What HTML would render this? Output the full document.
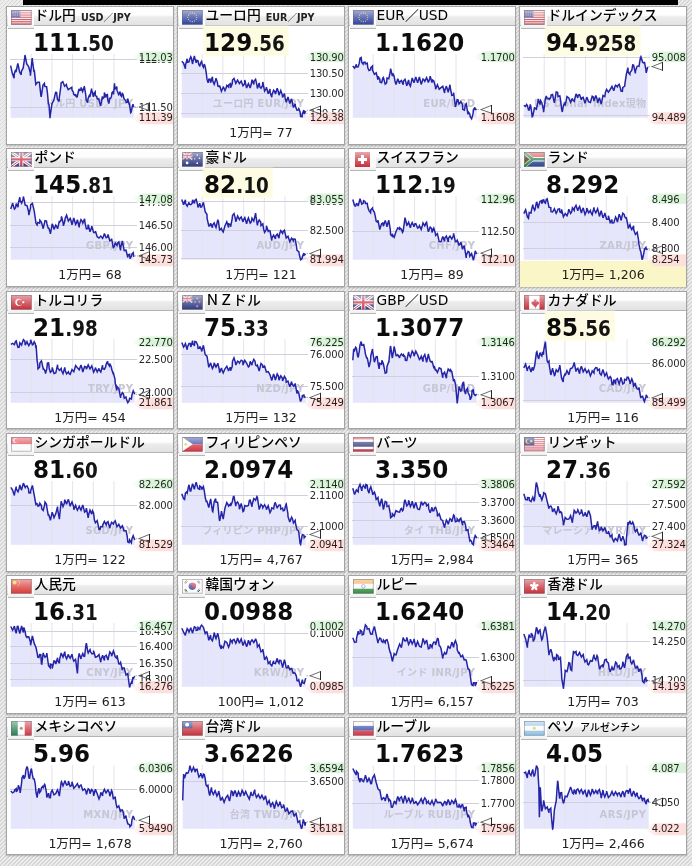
<!DOCTYPE html><html><head><meta charset="utf-8"><style>
*{box-sizing:border-box}
html,body{margin:0;padding:0}
body{width:692px;height:866px;overflow:hidden;position:relative;
 background:repeating-linear-gradient(135deg,#d6d6d6 0 1.3px,#ededed 1.3px 2.83px);
 font-family:"DejaVu Sans","Liberation Sans","Noto Sans CJK JP",sans-serif;color:#111}
.top{position:absolute;left:23px;top:0;width:655px;height:5px;background:#000}
.card{position:absolute;width:168px;border:1px solid #a4a4a4;background:#fff;box-shadow:0 1px 1.5px rgba(0,0,0,.22)}
.hdr{position:absolute;left:0;top:0;width:166px;height:19px;border-bottom:1px solid #b4b4b4;
 background:linear-gradient(#ffffff 0,#fdfdfd 45%,#ececec 55%,#e2e2e2 100%)}
.fbox{position:absolute;left:1px;top:0;width:26px;height:22px;background:linear-gradient(#ffffff 0,#fbfbfb 80%,#eeeeee 100%);
 border-bottom:1px solid #b4b8b8;z-index:2}
.flag{position:absolute;left:3px;top:3.3px;width:20.6px;height:14.6px}
.name{position:absolute;left:27.5px;top:-0.6px;height:18px;line-height:18px;white-space:nowrap;
 font-family:"DejaVu Sans","Noto Sans CJK JP",sans-serif;font-size:13.8px;font-weight:500;color:#000;z-index:3;-webkit-text-stroke:0}
.name .code{font-family:"DejaVu Sans","Noto Sans CJK JP",sans-serif;font-weight:bold;font-size:9.6px;margin-left:5px;color:#222;-webkit-text-stroke:0;position:relative;top:1px}
.name .n2{font-size:10px;margin-left:5px}
.price{position:absolute;left:26px;top:20px;height:28px;padding:0 3.5px 0 0;white-space:nowrap;z-index:3;
 font-family:"DejaVu Sans Condensed","DejaVu Sans",sans-serif;font-weight:bold;font-size:25.6px;line-height:30px;color:#0c0c0c}
.price.hl{background:#fdfbe2;box-shadow:0 0 2px 1px #fdfbe6}
.price b{font-weight:bold;letter-spacing:0.1px}
.price i{font-style:normal;font-weight:bold;font-size:20.4px;line-height:0;color:#141414}
.ch{position:absolute;left:0;top:0;z-index:1}
.wm{font-family:"DejaVu Sans","Noto Sans CJK JP",sans-serif;font-size:10px;font-weight:bold;letter-spacing:0.3px;fill:#c6c6d4}
.lb{font-family:"DejaVu Sans",sans-serif;font-size:10px;letter-spacing:-0.2px;fill:#282828}
.lb.hi{fill:#182a18}
.lb.lo{fill:#2e1818}
.bt{position:absolute;left:0;width:166px;top:119px;text-align:center;font-size:12.5px;line-height:14px;color:#202020;z-index:3;
 font-family:"DejaVu Sans","Noto Sans CJK JP",sans-serif}
.bhl{position:absolute;left:0;width:166px;background:#fbf6c8;z-index:0}
</style></head><body><svg width="0" height="0" style="position:absolute"><defs><linearGradient id="gg" x1="0" x2="1"><stop offset="0" stop-color="#daf3da" stop-opacity="0"/><stop offset="0.4" stop-color="#daf3da"/><stop offset="1" stop-color="#daf3da"/></linearGradient><linearGradient id="gp" x1="0" x2="1"><stop offset="0" stop-color="#fbe0de" stop-opacity="0"/><stop offset="0.35" stop-color="#fbe0de"/><stop offset="1" stop-color="#fbe0de"/></linearGradient><linearGradient id="gl" x1="0" y1="0" x2="0" y2="1"><stop offset="0" stop-color="#fff" stop-opacity="0.6"/><stop offset="0.5" stop-color="#fff" stop-opacity="0.3"/><stop offset="1" stop-color="#fff" stop-opacity="0.05"/></linearGradient><filter id="bl" x="-10%" y="-30%" width="120%" height="160%"><feGaussianBlur stdDeviation="0.6"/></filter></defs></svg><div class="top"></div>
<div class="card" style="left:6px;top:6px;height:139px"><div class="hdr"></div>
<div class="fbox"><svg class="flag" viewBox="0 0 21 15" preserveAspectRatio="none"><rect width="21" height="15" fill="#f4eeee"/><rect x="0" y="0.00" width="21" height="1.15" fill="#c8323c"/><rect x="0" y="2.31" width="21" height="1.15" fill="#c8323c"/><rect x="0" y="4.62" width="21" height="1.15" fill="#c8323c"/><rect x="0" y="6.92" width="21" height="1.15" fill="#c8323c"/><rect x="0" y="9.23" width="21" height="1.15" fill="#c8323c"/><rect x="0" y="11.54" width="21" height="1.15" fill="#c8323c"/><rect x="0" y="13.85" width="21" height="1.15" fill="#c8323c"/><rect width="9.5" height="8.1" fill="#3b3b8c"/><g fill="#b8b8e0"><circle cx="1.0" cy="1.0" r="0.45"/><circle cx="1.0" cy="2.6" r="0.45"/><circle cx="1.0" cy="4.2" r="0.45"/><circle cx="1.0" cy="5.8" r="0.45"/><circle cx="1.0" cy="7.4" r="0.45"/><circle cx="2.9" cy="1.0" r="0.45"/><circle cx="2.9" cy="2.6" r="0.45"/><circle cx="2.9" cy="4.2" r="0.45"/><circle cx="2.9" cy="5.8" r="0.45"/><circle cx="2.9" cy="7.4" r="0.45"/><circle cx="4.8" cy="1.0" r="0.45"/><circle cx="4.8" cy="2.6" r="0.45"/><circle cx="4.8" cy="4.2" r="0.45"/><circle cx="4.8" cy="5.8" r="0.45"/><circle cx="4.8" cy="7.4" r="0.45"/><circle cx="6.7" cy="1.0" r="0.45"/><circle cx="6.7" cy="2.6" r="0.45"/><circle cx="6.7" cy="4.2" r="0.45"/><circle cx="6.7" cy="5.8" r="0.45"/><circle cx="6.7" cy="7.4" r="0.45"/><circle cx="8.6" cy="1.0" r="0.45"/><circle cx="8.6" cy="2.6" r="0.45"/><circle cx="8.6" cy="4.2" r="0.45"/><circle cx="8.6" cy="5.8" r="0.45"/><circle cx="8.6" cy="7.4" r="0.45"/></g><rect width="21" height="15" fill="url(#gl)"/><rect x="0.4" y="0.4" width="20.2" height="14.2" fill="none" stroke="#6a6070" stroke-opacity="0.55" stroke-width="0.8"/></svg></div>
<div class="name">ドル円<span class="code">USD／JPY</span></div>
<div class="price"><b>111</b><i>.50</i></div>
<svg class="ch" width="166" height="137" viewBox="1 1 166 137"><polygon points="4.6,111.8 4.6,59.7 6.4,67.6 8.1,72.3 8.2,68.2 9.6,63.7 10.0,66.2 11.8,57.4 12.1,58.6 13.6,66.0 15.2,68.8 15.4,65.5 17.2,61.9 18.7,51.6 19.0,49.0 20.8,58.1 21.7,59.1 22.6,60.6 24.3,66.7 24.4,69.6 26.2,52.0 26.3,53.6 28.0,65.9 28.3,64.2 29.8,78.4 31.6,76.3 33.4,76.3 34.9,89.5 35.2,90.8 37.0,79.1 38.4,77.4 38.8,80.4 40.6,80.7 41.5,87.5 42.4,97.9 43.0,98.6 44.0,112.3 44.2,109.7 46.0,97.6 47.8,94.3 49.6,86.3 50.6,86.5 51.4,93.2 53.1,95.6 53.2,92.5 55.0,79.5 55.1,76.9 56.8,75.7 58.6,80.2 60.4,78.5 60.7,80.4 62.2,83.6 64.0,82.4 65.8,81.3 66.0,83.9 67.5,86.5 67.6,88.4 69.1,89.5 69.4,88.1 70.6,91.0 71.2,90.9 72.1,86.5 73.0,82.9 73.6,84.4 74.8,83.9 75.1,81.4 76.6,85.5 78.2,80.9 78.4,80.8 79.7,88.5 80.2,94.0 81.7,96.6 82.0,92.7 83.7,88.5 83.8,91.2 85.6,82.6 85.7,83.9 87.4,90.8 87.8,87.5 89.2,85.8 89.3,89.5 90.8,90.5 91.0,92.3 92.3,93.5 92.8,92.9 93.8,97.6 94.6,99.8 95.4,95.6 96.4,90.4 96.9,92.5 98.2,91.1 98.4,86.5 99.9,91.5 100.0,89.0 101.4,88.5 101.8,94.4 102.9,97.6 103.6,92.4 104.5,92.5 105.4,90.8 106.0,86.5 107.2,85.3 107.5,88.5 108.5,77.4 109.0,83.5 109.5,82.4 110.8,80.6 111.0,84.4 112.6,88.5 114.1,85.5 114.4,89.0 115.6,90.5 116.2,86.9 117.1,88.5 118.0,92.6 118.6,93.5 119.8,94.3 120.1,96.6 121.6,96.1 121.7,92.5 123.2,98.6 123.4,97.4 124.7,106.7 125.2,106.2 126.2,100.6 127.0,98.2 127.7,101.1 127.7,111.8" fill="#e5e5fb"/>
<line x1="25.2" y1="48" x2="25.2" y2="111.8" stroke="#e4e4ea" stroke-width="1"/>
<line x1="45.9" y1="48" x2="45.9" y2="111.8" stroke="#e4e4ea" stroke-width="1"/>
<line x1="66.6" y1="48" x2="66.6" y2="111.8" stroke="#e4e4ea" stroke-width="1"/>
<line x1="87.3" y1="48" x2="87.3" y2="111.8" stroke="#e4e4ea" stroke-width="1"/>
<line x1="108.0" y1="48" x2="108.0" y2="111.8" stroke="#e4e4ea" stroke-width="1"/>
<line x1="4" y1="53.5" x2="131" y2="53.5" stroke="#d0d0dc" stroke-width="1"/>
<line x1="4" y1="101.5" x2="131" y2="101.5" stroke="#d0d0dc" stroke-width="1"/>
<text x="127.3" y="100.8" text-anchor="end" class="wm">ドル円 USD／JPY</text>
<polyline points="4.6,59.7 6.4,67.6 8.1,72.3 8.2,68.2 9.6,63.7 10.0,66.2 11.8,57.4 12.1,58.6 13.6,66.0 15.2,68.8 15.4,65.5 17.2,61.9 18.7,51.6 19.0,49.0 20.8,58.1 21.7,59.1 22.6,60.6 24.3,66.7 24.4,69.6 26.2,52.0 26.3,53.6 28.0,65.9 28.3,64.2 29.8,78.4 31.6,76.3 33.4,76.3 34.9,89.5 35.2,90.8 37.0,79.1 38.4,77.4 38.8,80.4 40.6,80.7 41.5,87.5 42.4,97.9 43.0,98.6 44.0,112.3 44.2,109.7 46.0,97.6 47.8,94.3 49.6,86.3 50.6,86.5 51.4,93.2 53.1,95.6 53.2,92.5 55.0,79.5 55.1,76.9 56.8,75.7 58.6,80.2 60.4,78.5 60.7,80.4 62.2,83.6 64.0,82.4 65.8,81.3 66.0,83.9 67.5,86.5 67.6,88.4 69.1,89.5 69.4,88.1 70.6,91.0 71.2,90.9 72.1,86.5 73.0,82.9 73.6,84.4 74.8,83.9 75.1,81.4 76.6,85.5 78.2,80.9 78.4,80.8 79.7,88.5 80.2,94.0 81.7,96.6 82.0,92.7 83.7,88.5 83.8,91.2 85.6,82.6 85.7,83.9 87.4,90.8 87.8,87.5 89.2,85.8 89.3,89.5 90.8,90.5 91.0,92.3 92.3,93.5 92.8,92.9 93.8,97.6 94.6,99.8 95.4,95.6 96.4,90.4 96.9,92.5 98.2,91.1 98.4,86.5 99.9,91.5 100.0,89.0 101.4,88.5 101.8,94.4 102.9,97.6 103.6,92.4 104.5,92.5 105.4,90.8 106.0,86.5 107.2,85.3 107.5,88.5 108.5,77.4 109.0,83.5 109.5,82.4 110.8,80.6 111.0,84.4 112.6,88.5 114.1,85.5 114.4,89.0 115.6,90.5 116.2,86.9 117.1,88.5 118.0,92.6 118.6,93.5 119.8,94.3 120.1,96.6 121.6,96.1 121.7,92.5 123.2,98.6 123.4,97.4 124.7,106.7 125.2,106.2 126.2,100.6 127.0,98.2 127.7,101.1" fill="none" stroke="#2424a8" stroke-width="1.5" stroke-linejoin="miter" stroke-miterlimit="3"/>
<text x="132.8" y="57.1" class="lb">112.00</text>
<text x="132.8" y="105.1" class="lb">111.50</text>
<path d="M125,51.0L135,45.4H167V55.9H135Z" fill="url(#gg)" filter="url(#bl)"/>
<path d="M125,112.2L135,106.2H167V118.2H135Z" fill="url(#gp)" filter="url(#bl)"/>
<text x="132.8" y="54.6" class="lb hi">112.03</text>
<text x="132.8" y="115.4" class="lb lo">111.39</text>
<line x1="128.7" y1="101.1" x2="133" y2="101.1" stroke="#888" stroke-width="1" stroke-dasharray="1 1.5"/>
<path d="M143.5,96.9L133,101.1L143.5,104.7" fill="none" stroke="#5a5a5a" stroke-width="0.9"/>
<line x1="143.5" y1="96.5" x2="143.5" y2="105.3" stroke="#111" stroke-width="0.9"/></svg></div>
<div class="card" style="left:177px;top:6px;height:139px"><div class="hdr"></div>
<div class="fbox"><svg class="flag" viewBox="0 0 21 15" preserveAspectRatio="none"><rect width="21" height="15" fill="#24399a"/><g fill="#e8d84a"><circle cx="15.00" cy="7.50" r="0.6"/><circle cx="14.40" cy="9.75" r="0.6"/><circle cx="12.75" cy="11.40" r="0.6"/><circle cx="10.50" cy="12.00" r="0.6"/><circle cx="8.25" cy="11.40" r="0.6"/><circle cx="6.60" cy="9.75" r="0.6"/><circle cx="6.00" cy="7.50" r="0.6"/><circle cx="6.60" cy="5.25" r="0.6"/><circle cx="8.25" cy="3.60" r="0.6"/><circle cx="10.50" cy="3.00" r="0.6"/><circle cx="12.75" cy="3.60" r="0.6"/><circle cx="14.40" cy="5.25" r="0.6"/></g><rect width="21" height="15" fill="url(#gl)"/><rect x="0.4" y="0.4" width="20.2" height="14.2" fill="none" stroke="#6a6070" stroke-opacity="0.55" stroke-width="0.8"/></svg></div>
<div class="name">ユーロ円<span class="code">EUR／JPY</span></div>
<div class="price hl"><b>129</b><i>.56</i></div>
<svg class="ch" width="166" height="137" viewBox="1 1 166 137"><polygon points="4.8,111.8 4.8,55.3 6.6,57.2 8.4,62.8 8.5,59.0 10.2,52.7 10.4,56.2 12.0,55.8 12.3,54.3 13.8,50.8 14.2,51.5 15.6,58.0 16.0,55.3 17.4,50.0 17.9,52.5 19.2,56.7 19.8,54.3 21.0,54.8 21.7,58.1 22.8,60.4 23.5,57.2 24.6,55.4 25.4,59.0 26.4,61.3 27.3,58.1 28.2,60.6 29.2,66.5 30.0,73.2 31.1,76.9 31.8,73.2 32.9,73.1 33.6,76.7 35.4,70.8 35.8,75.0 37.2,78.4 38.6,74.1 39.0,72.1 40.5,76.9 40.8,79.9 42.3,80.6 42.6,79.4 44.2,84.4 44.4,85.2 46.1,81.6 46.2,80.5 48.0,84.6 48.9,82.5 49.8,79.4 51.6,81.1 51.7,78.8 53.4,77.6 53.6,81.6 55.2,77.9 55.5,74.1 57.0,72.4 58.3,75.9 58.8,77.4 60.6,74.1 61.1,75.0 62.4,77.6 64.2,75.1 64.9,76.9 66.0,79.8 67.7,77.8 67.8,73.9 69.6,82.1 70.5,79.7 71.4,77.7 73.2,82.0 74.3,77.8 75.0,73.7 76.8,78.5 77.1,75.0 78.6,73.3 79.9,78.8 80.4,82.4 82.2,76.9 82.7,80.6 84.0,82.2 85.5,79.7 85.8,76.0 87.6,85.1 89.3,82.5 89.4,81.1 91.2,87.7 93.0,83.1 93.1,86.3 94.8,91.3 94.9,89.1 96.6,84.2 97.7,85.3 98.4,88.0 100.2,82.2 101.5,86.3 102.0,89.2 103.8,84.5 105.3,89.1 105.6,91.5 107.4,87.6 108.1,91.9 109.2,96.2 111.0,91.0 111.8,93.8 112.8,97.5 114.6,92.8 115.6,97.5 116.4,101.5 118.2,97.7 118.4,100.4 120.0,104.2 121.2,104.1 121.8,102.7 123.1,106.0 123.6,110.3 125.0,110.7 125.4,107.8 126.9,104.1 127.2,108.0 128.7,105.1 128.7,111.8" fill="#e5e5fb"/>
<line x1="25.2" y1="48" x2="25.2" y2="111.8" stroke="#e4e4ea" stroke-width="1"/>
<line x1="45.9" y1="48" x2="45.9" y2="111.8" stroke="#e4e4ea" stroke-width="1"/>
<line x1="66.6" y1="48" x2="66.6" y2="111.8" stroke="#e4e4ea" stroke-width="1"/>
<line x1="87.3" y1="48" x2="87.3" y2="111.8" stroke="#e4e4ea" stroke-width="1"/>
<line x1="108.0" y1="48" x2="108.0" y2="111.8" stroke="#e4e4ea" stroke-width="1"/>
<line x1="4" y1="67.5" x2="131" y2="67.5" stroke="#d0d0dc" stroke-width="1"/>
<line x1="4" y1="87.5" x2="131" y2="87.5" stroke="#d0d0dc" stroke-width="1"/>
<line x1="4" y1="107.5" x2="131" y2="107.5" stroke="#d0d0dc" stroke-width="1"/>
<text x="127.3" y="100.8" text-anchor="end" class="wm">ユーロ円 EUR/JPY</text>
<polyline points="4.8,55.3 6.6,57.2 8.4,62.8 8.5,59.0 10.2,52.7 10.4,56.2 12.0,55.8 12.3,54.3 13.8,50.8 14.2,51.5 15.6,58.0 16.0,55.3 17.4,50.0 17.9,52.5 19.2,56.7 19.8,54.3 21.0,54.8 21.7,58.1 22.8,60.4 23.5,57.2 24.6,55.4 25.4,59.0 26.4,61.3 27.3,58.1 28.2,60.6 29.2,66.5 30.0,73.2 31.1,76.9 31.8,73.2 32.9,73.1 33.6,76.7 35.4,70.8 35.8,75.0 37.2,78.4 38.6,74.1 39.0,72.1 40.5,76.9 40.8,79.9 42.3,80.6 42.6,79.4 44.2,84.4 44.4,85.2 46.1,81.6 46.2,80.5 48.0,84.6 48.9,82.5 49.8,79.4 51.6,81.1 51.7,78.8 53.4,77.6 53.6,81.6 55.2,77.9 55.5,74.1 57.0,72.4 58.3,75.9 58.8,77.4 60.6,74.1 61.1,75.0 62.4,77.6 64.2,75.1 64.9,76.9 66.0,79.8 67.7,77.8 67.8,73.9 69.6,82.1 70.5,79.7 71.4,77.7 73.2,82.0 74.3,77.8 75.0,73.7 76.8,78.5 77.1,75.0 78.6,73.3 79.9,78.8 80.4,82.4 82.2,76.9 82.7,80.6 84.0,82.2 85.5,79.7 85.8,76.0 87.6,85.1 89.3,82.5 89.4,81.1 91.2,87.7 93.0,83.1 93.1,86.3 94.8,91.3 94.9,89.1 96.6,84.2 97.7,85.3 98.4,88.0 100.2,82.2 101.5,86.3 102.0,89.2 103.8,84.5 105.3,89.1 105.6,91.5 107.4,87.6 108.1,91.9 109.2,96.2 111.0,91.0 111.8,93.8 112.8,97.5 114.6,92.8 115.6,97.5 116.4,101.5 118.2,97.7 118.4,100.4 120.0,104.2 121.2,104.1 121.8,102.7 123.1,106.0 123.6,110.3 125.0,110.7 125.4,107.8 126.9,104.1 127.2,108.0 128.7,105.1" fill="none" stroke="#2424a8" stroke-width="1.5" stroke-linejoin="miter" stroke-miterlimit="3"/>
<text x="132.8" y="71.1" class="lb">130.50</text>
<text x="132.8" y="91.1" class="lb">130.00</text>
<text x="132.8" y="111.1" class="lb">129.50</text>
<path d="M125,51.0L135,45.4H167V55.9H135Z" fill="url(#gg)" filter="url(#bl)"/>
<path d="M125,112.2L135,106.2H167V118.2H135Z" fill="url(#gp)" filter="url(#bl)"/>
<text x="132.8" y="54.6" class="lb hi">130.90</text>
<text x="132.8" y="115.4" class="lb lo">129.38</text>
<line x1="129.7" y1="104.3" x2="133" y2="104.3" stroke="#888" stroke-width="1" stroke-dasharray="1 1.5"/>
<path d="M143.5,100.1L133,104.3L143.5,107.9" fill="none" stroke="#5a5a5a" stroke-width="0.9"/>
<line x1="143.5" y1="99.7" x2="143.5" y2="108.5" stroke="#111" stroke-width="0.9"/></svg>
<div class="bt">1万円= 77</div></div>
<div class="card" style="left:348px;top:6px;height:139px"><div class="hdr"></div>
<div class="fbox"><svg class="flag" viewBox="0 0 21 15" preserveAspectRatio="none"><rect width="21" height="15" fill="#24399a"/><g fill="#e8d84a"><circle cx="15.00" cy="7.50" r="0.6"/><circle cx="14.40" cy="9.75" r="0.6"/><circle cx="12.75" cy="11.40" r="0.6"/><circle cx="10.50" cy="12.00" r="0.6"/><circle cx="8.25" cy="11.40" r="0.6"/><circle cx="6.60" cy="9.75" r="0.6"/><circle cx="6.00" cy="7.50" r="0.6"/><circle cx="6.60" cy="5.25" r="0.6"/><circle cx="8.25" cy="3.60" r="0.6"/><circle cx="10.50" cy="3.00" r="0.6"/><circle cx="12.75" cy="3.60" r="0.6"/><circle cx="14.40" cy="5.25" r="0.6"/></g><rect width="21" height="15" fill="url(#gl)"/><rect x="0.4" y="0.4" width="20.2" height="14.2" fill="none" stroke="#6a6070" stroke-opacity="0.55" stroke-width="0.8"/></svg></div>
<div class="name">EUR／USD</div>
<div class="price"><b>1.1620</b></div>
<svg class="ch" width="166" height="137" viewBox="1 1 166 137"><polygon points="4.8,111.8 4.8,60.0 6.6,62.2 8.4,58.2 8.5,60.9 10.2,60.8 11.3,57.2 12.0,52.3 13.2,51.5 13.8,56.5 15.1,58.1 15.6,56.4 17.0,56.2 17.4,58.0 19.2,57.1 19.8,61.8 21.0,64.4 22.6,63.7 22.8,61.6 24.5,60.0 24.6,64.4 26.4,68.4 28.2,66.9 30.0,73.8 30.1,70.3 31.8,72.9 32.0,75.9 33.6,76.7 34.8,72.2 35.4,71.5 37.2,78.1 38.6,76.9 39.0,72.1 40.8,72.8 42.3,65.6 42.6,62.6 44.4,70.0 45.1,67.5 46.2,70.7 47.0,75.0 48.0,78.5 49.8,72.8 51.6,77.8 51.7,75.9 53.4,74.4 55.2,78.7 55.5,75.0 57.0,73.3 58.8,79.8 60.6,73.9 61.1,77.8 62.4,80.1 64.2,72.0 66.0,76.8 66.8,74.1 67.8,70.9 69.6,76.9 71.4,71.0 72.4,75.0 73.2,78.4 75.0,73.1 76.1,74.1 76.8,75.3 78.6,71.6 80.4,76.6 81.8,72.2 82.2,70.2 84.0,76.6 84.6,74.1 85.8,75.0 87.4,80.6 87.6,83.2 89.4,78.8 91.2,83.3 93.0,81.6 94.8,80.2 96.6,87.0 96.8,84.4 98.4,80.1 100.2,86.3 102.0,78.8 102.4,82.5 103.8,89.3 105.3,89.1 105.6,86.7 107.1,98.5 107.4,101.0 109.2,93.6 110.0,93.8 111.0,98.1 112.8,95.7 114.6,98.9 114.7,103.2 116.4,104.1 117.5,98.5 118.2,97.7 120.0,108.3 120.3,106.0 121.8,108.1 122.2,110.7 123.6,112.8 125.0,107.9 125.4,103.8 126.9,101.3 127.2,103.5 128.7,103.2 128.7,111.8" fill="#e5e5fb"/>
<line x1="25.2" y1="48" x2="25.2" y2="111.8" stroke="#e4e4ea" stroke-width="1"/>
<line x1="45.9" y1="48" x2="45.9" y2="111.8" stroke="#e4e4ea" stroke-width="1"/>
<line x1="66.6" y1="48" x2="66.6" y2="111.8" stroke="#e4e4ea" stroke-width="1"/>
<line x1="87.3" y1="48" x2="87.3" y2="111.8" stroke="#e4e4ea" stroke-width="1"/>
<line x1="108.0" y1="48" x2="108.0" y2="111.8" stroke="#e4e4ea" stroke-width="1"/>
<text x="127.3" y="100.8" text-anchor="end" class="wm">EUR/USD</text>
<polyline points="4.8,60.0 6.6,62.2 8.4,58.2 8.5,60.9 10.2,60.8 11.3,57.2 12.0,52.3 13.2,51.5 13.8,56.5 15.1,58.1 15.6,56.4 17.0,56.2 17.4,58.0 19.2,57.1 19.8,61.8 21.0,64.4 22.6,63.7 22.8,61.6 24.5,60.0 24.6,64.4 26.4,68.4 28.2,66.9 30.0,73.8 30.1,70.3 31.8,72.9 32.0,75.9 33.6,76.7 34.8,72.2 35.4,71.5 37.2,78.1 38.6,76.9 39.0,72.1 40.8,72.8 42.3,65.6 42.6,62.6 44.4,70.0 45.1,67.5 46.2,70.7 47.0,75.0 48.0,78.5 49.8,72.8 51.6,77.8 51.7,75.9 53.4,74.4 55.2,78.7 55.5,75.0 57.0,73.3 58.8,79.8 60.6,73.9 61.1,77.8 62.4,80.1 64.2,72.0 66.0,76.8 66.8,74.1 67.8,70.9 69.6,76.9 71.4,71.0 72.4,75.0 73.2,78.4 75.0,73.1 76.1,74.1 76.8,75.3 78.6,71.6 80.4,76.6 81.8,72.2 82.2,70.2 84.0,76.6 84.6,74.1 85.8,75.0 87.4,80.6 87.6,83.2 89.4,78.8 91.2,83.3 93.0,81.6 94.8,80.2 96.6,87.0 96.8,84.4 98.4,80.1 100.2,86.3 102.0,78.8 102.4,82.5 103.8,89.3 105.3,89.1 105.6,86.7 107.1,98.5 107.4,101.0 109.2,93.6 110.0,93.8 111.0,98.1 112.8,95.7 114.6,98.9 114.7,103.2 116.4,104.1 117.5,98.5 118.2,97.7 120.0,108.3 120.3,106.0 121.8,108.1 122.2,110.7 123.6,112.8 125.0,107.9 125.4,103.8 126.9,101.3 127.2,103.5 128.7,103.2" fill="none" stroke="#2424a8" stroke-width="1.5" stroke-linejoin="miter" stroke-miterlimit="3"/>
<path d="M125,51.0L135,45.4H167V55.9H135Z" fill="url(#gg)" filter="url(#bl)"/>
<path d="M125,112.2L135,106.2H167V118.2H135Z" fill="url(#gp)" filter="url(#bl)"/>
<text x="132.8" y="54.6" class="lb hi">1.1700</text>
<text x="132.8" y="115.4" class="lb lo">1.1608</text>
<line x1="129.7" y1="103.6" x2="133" y2="103.6" stroke="#888" stroke-width="1" stroke-dasharray="1 1.5"/>
<path d="M143.5,99.4L133,103.6L143.5,107.2" fill="none" stroke="#5a5a5a" stroke-width="0.9"/>
<line x1="143.5" y1="99.0" x2="143.5" y2="107.8" stroke="#111" stroke-width="0.9"/></svg></div>
<div class="card" style="left:519px;top:6px;height:139px"><div class="hdr"></div>
<div class="fbox"><svg class="flag" viewBox="0 0 21 15" preserveAspectRatio="none"><rect width="21" height="15" fill="#f4eeee"/><rect x="0" y="0.00" width="21" height="1.15" fill="#c8323c"/><rect x="0" y="2.31" width="21" height="1.15" fill="#c8323c"/><rect x="0" y="4.62" width="21" height="1.15" fill="#c8323c"/><rect x="0" y="6.92" width="21" height="1.15" fill="#c8323c"/><rect x="0" y="9.23" width="21" height="1.15" fill="#c8323c"/><rect x="0" y="11.54" width="21" height="1.15" fill="#c8323c"/><rect x="0" y="13.85" width="21" height="1.15" fill="#c8323c"/><rect width="9.5" height="8.1" fill="#3b3b8c"/><g fill="#b8b8e0"><circle cx="1.0" cy="1.0" r="0.45"/><circle cx="1.0" cy="2.6" r="0.45"/><circle cx="1.0" cy="4.2" r="0.45"/><circle cx="1.0" cy="5.8" r="0.45"/><circle cx="1.0" cy="7.4" r="0.45"/><circle cx="2.9" cy="1.0" r="0.45"/><circle cx="2.9" cy="2.6" r="0.45"/><circle cx="2.9" cy="4.2" r="0.45"/><circle cx="2.9" cy="5.8" r="0.45"/><circle cx="2.9" cy="7.4" r="0.45"/><circle cx="4.8" cy="1.0" r="0.45"/><circle cx="4.8" cy="2.6" r="0.45"/><circle cx="4.8" cy="4.2" r="0.45"/><circle cx="4.8" cy="5.8" r="0.45"/><circle cx="4.8" cy="7.4" r="0.45"/><circle cx="6.7" cy="1.0" r="0.45"/><circle cx="6.7" cy="2.6" r="0.45"/><circle cx="6.7" cy="4.2" r="0.45"/><circle cx="6.7" cy="5.8" r="0.45"/><circle cx="6.7" cy="7.4" r="0.45"/><circle cx="8.6" cy="1.0" r="0.45"/><circle cx="8.6" cy="2.6" r="0.45"/><circle cx="8.6" cy="4.2" r="0.45"/><circle cx="8.6" cy="5.8" r="0.45"/><circle cx="8.6" cy="7.4" r="0.45"/></g><rect width="21" height="15" fill="url(#gl)"/><rect x="0.4" y="0.4" width="20.2" height="14.2" fill="none" stroke="#6a6070" stroke-opacity="0.55" stroke-width="0.8"/></svg></div>
<div class="name">ドルインデックス</div>
<div class="price hl"><b>94</b><i>.9258</i></div>
<svg class="ch" width="166" height="137" viewBox="1 1 166 137"><polygon points="4.8,111.8 4.8,99.4 6.6,100.5 7.6,98.5 8.4,99.5 9.5,104.1 10.2,104.1 11.3,98.5 12.0,101.5 13.2,110.7 13.8,110.1 15.6,101.2 16.0,102.2 17.4,103.2 18.8,96.6 19.2,92.9 21.0,98.5 21.7,94.7 22.8,96.7 24.5,104.1 24.6,106.2 26.4,92.7 27.3,90.0 28.2,92.7 30.0,92.3 30.1,93.8 31.8,91.2 32.0,89.1 33.6,88.5 34.8,94.7 35.4,96.9 37.2,86.0 38.6,86.3 39.0,90.6 40.8,89.8 41.4,92.8 42.6,103.1 43.3,106.0 44.4,99.4 46.1,96.6 46.2,99.7 48.0,90.6 49.8,91.9 51.6,96.4 53.4,92.4 53.6,93.8 55.2,95.3 57.0,87.9 58.8,92.0 59.2,89.1 60.6,88.6 62.4,93.9 63.0,91.9 64.2,91.3 66.0,97.4 67.8,91.1 69.6,95.7 71.4,96.5 73.2,90.2 74.3,91.0 75.0,95.1 76.8,89.5 78.0,92.8 78.6,97.0 80.4,91.7 81.8,96.6 82.2,98.2 84.0,89.5 85.8,90.6 86.5,86.3 87.6,83.4 89.4,86.1 91.2,83.5 93.0,80.5 94.8,84.7 95.9,80.6 96.6,79.2 98.4,80.9 98.7,79.7 100.2,78.3 101.5,82.5 102.0,85.1 103.4,85.3 103.8,81.4 105.6,80.3 106.2,75.9 107.4,67.8 109.0,61.8 109.2,66.5 110.9,68.4 111.0,66.5 112.8,64.3 113.7,59.0 114.6,59.2 116.4,67.4 116.5,64.7 118.2,60.1 119.4,60.0 120.0,60.2 121.8,49.5 122.2,51.5 123.6,56.3 125.0,57.2 125.4,55.9 126.9,63.7 127.2,66.9 128.7,60.9 128.7,111.8" fill="#e5e5fb"/>
<line x1="25.2" y1="48" x2="25.2" y2="111.8" stroke="#e4e4ea" stroke-width="1"/>
<line x1="45.9" y1="48" x2="45.9" y2="111.8" stroke="#e4e4ea" stroke-width="1"/>
<line x1="66.6" y1="48" x2="66.6" y2="111.8" stroke="#e4e4ea" stroke-width="1"/>
<line x1="87.3" y1="48" x2="87.3" y2="111.8" stroke="#e4e4ea" stroke-width="1"/>
<line x1="108.0" y1="48" x2="108.0" y2="111.8" stroke="#e4e4ea" stroke-width="1"/>
<line x1="4" y1="51.5" x2="131" y2="51.5" stroke="#d0d0dc" stroke-width="1"/>
<line x1="4" y1="109.5" x2="131" y2="109.5" stroke="#d0d0dc" stroke-width="1"/>
<text x="127.3" y="100.8" text-anchor="end" class="wm">US Dollar Index現物</text>
<polyline points="4.8,99.4 6.6,100.5 7.6,98.5 8.4,99.5 9.5,104.1 10.2,104.1 11.3,98.5 12.0,101.5 13.2,110.7 13.8,110.1 15.6,101.2 16.0,102.2 17.4,103.2 18.8,96.6 19.2,92.9 21.0,98.5 21.7,94.7 22.8,96.7 24.5,104.1 24.6,106.2 26.4,92.7 27.3,90.0 28.2,92.7 30.0,92.3 30.1,93.8 31.8,91.2 32.0,89.1 33.6,88.5 34.8,94.7 35.4,96.9 37.2,86.0 38.6,86.3 39.0,90.6 40.8,89.8 41.4,92.8 42.6,103.1 43.3,106.0 44.4,99.4 46.1,96.6 46.2,99.7 48.0,90.6 49.8,91.9 51.6,96.4 53.4,92.4 53.6,93.8 55.2,95.3 57.0,87.9 58.8,92.0 59.2,89.1 60.6,88.6 62.4,93.9 63.0,91.9 64.2,91.3 66.0,97.4 67.8,91.1 69.6,95.7 71.4,96.5 73.2,90.2 74.3,91.0 75.0,95.1 76.8,89.5 78.0,92.8 78.6,97.0 80.4,91.7 81.8,96.6 82.2,98.2 84.0,89.5 85.8,90.6 86.5,86.3 87.6,83.4 89.4,86.1 91.2,83.5 93.0,80.5 94.8,84.7 95.9,80.6 96.6,79.2 98.4,80.9 98.7,79.7 100.2,78.3 101.5,82.5 102.0,85.1 103.4,85.3 103.8,81.4 105.6,80.3 106.2,75.9 107.4,67.8 109.0,61.8 109.2,66.5 110.9,68.4 111.0,66.5 112.8,64.3 113.7,59.0 114.6,59.2 116.4,67.4 116.5,64.7 118.2,60.1 119.4,60.0 120.0,60.2 121.8,49.5 122.2,51.5 123.6,56.3 125.0,57.2 125.4,55.9 126.9,63.7 127.2,66.9 128.7,60.9" fill="none" stroke="#2424a8" stroke-width="1.5" stroke-linejoin="miter" stroke-miterlimit="3"/>
<path d="M125,51.0L135,45.4H167V55.9H135Z" fill="url(#gg)" filter="url(#bl)"/>
<path d="M125,112.2L135,106.2H167V118.2H135Z" fill="url(#gp)" filter="url(#bl)"/>
<text x="132.8" y="54.6" class="lb hi">95.008</text>
<text x="132.8" y="115.4" class="lb lo">94.489</text>
<line x1="129.7" y1="60.6" x2="133" y2="60.6" stroke="#888" stroke-width="1" stroke-dasharray="1 1.5"/>
<path d="M143.5,56.4L133,60.6L143.5,64.2" fill="none" stroke="#5a5a5a" stroke-width="0.9"/>
<line x1="143.5" y1="56.0" x2="143.5" y2="64.8" stroke="#111" stroke-width="0.9"/></svg></div>
<div class="card" style="left:6px;top:148px;height:139px"><div class="hdr"></div>
<div class="fbox"><svg class="flag" viewBox="0 0 21 15" preserveAspectRatio="none"><rect width="21" height="15" fill="#2a3580"/><path d="M0,0L21,15M21,0L0,15" stroke="#fff" stroke-width="3"/><path d="M0,0L21,15M21,0L0,15" stroke="#c8283c" stroke-width="1"/><path d="M10.5,0V15M0,7.5H21" stroke="#fff" stroke-width="4.2"/><path d="M10.5,0V15M0,7.5H21" stroke="#c8283c" stroke-width="2.4"/><rect width="21" height="15" fill="url(#gl)"/><rect x="0.4" y="0.4" width="20.2" height="14.2" fill="none" stroke="#6a6070" stroke-opacity="0.55" stroke-width="0.8"/></svg></div>
<div class="name">ポンド</div>
<div class="price"><b>145</b><i>.81</i></div>
<svg class="ch" width="166" height="137" viewBox="1 1 166 137"><polygon points="4.8,111.8 4.8,60.9 6.6,55.3 8.4,61.1 9.5,60.0 10.2,55.6 12.0,59.2 12.3,55.3 13.8,49.3 14.2,52.5 15.6,55.2 17.0,51.5 17.4,48.5 19.2,57.1 19.8,57.2 21.0,57.6 22.6,63.7 22.8,67.1 24.5,60.0 24.6,56.8 26.4,55.3 28.2,62.8 30.0,75.3 31.1,76.9 31.8,74.4 33.6,75.1 33.9,72.2 35.4,74.0 36.7,78.8 37.2,80.7 39.0,72.6 40.5,73.1 40.8,75.4 42.3,80.6 42.6,79.5 44.2,84.4 44.4,85.8 46.2,75.9 47.0,77.8 48.0,81.4 49.8,77.1 50.8,78.8 51.6,80.8 53.4,72.9 53.6,74.0 55.2,72.1 55.5,68.4 57.0,74.4 57.4,77.8 58.8,73.0 59.2,70.3 60.6,67.2 62.4,73.0 64.2,70.3 64.9,72.2 66.0,76.7 67.8,70.0 69.6,76.4 70.5,75.0 71.4,71.7 73.2,79.4 73.3,76.9 75.0,71.6 76.1,73.1 76.8,75.2 78.6,70.9 79.0,75.0 80.4,80.9 81.8,80.6 82.2,76.6 84.0,83.7 85.5,79.7 85.8,78.2 87.6,84.4 89.3,84.4 89.4,83.1 91.2,88.7 93.0,90.0 94.8,88.1 96.6,90.4 97.7,88.1 98.4,85.5 100.2,89.8 101.5,89.1 102.0,86.4 103.8,92.8 105.3,91.9 105.6,90.7 107.4,100.3 108.1,98.5 109.2,94.9 111.0,97.5 111.8,94.7 112.8,93.9 114.6,102.4 114.7,99.4 116.4,92.9 116.5,93.8 118.2,102.6 119.4,102.2 120.0,102.1 121.8,109.5 122.2,106.9 123.6,106.3 124.0,110.7 125.4,108.3 125.9,106.0 127.2,104.6 127.8,108.8 127.8,111.8" fill="#e5e5fb"/>
<line x1="25.2" y1="48" x2="25.2" y2="111.8" stroke="#e4e4ea" stroke-width="1"/>
<line x1="45.9" y1="48" x2="45.9" y2="111.8" stroke="#e4e4ea" stroke-width="1"/>
<line x1="66.6" y1="48" x2="66.6" y2="111.8" stroke="#e4e4ea" stroke-width="1"/>
<line x1="87.3" y1="48" x2="87.3" y2="111.8" stroke="#e4e4ea" stroke-width="1"/>
<line x1="108.0" y1="48" x2="108.0" y2="111.8" stroke="#e4e4ea" stroke-width="1"/>
<line x1="4" y1="54.5" x2="131" y2="54.5" stroke="#d0d0dc" stroke-width="1"/>
<line x1="4" y1="77.5" x2="131" y2="77.5" stroke="#d0d0dc" stroke-width="1"/>
<line x1="4" y1="99.5" x2="131" y2="99.5" stroke="#d0d0dc" stroke-width="1"/>
<text x="127.3" y="100.8" text-anchor="end" class="wm">GBP/JPY</text>
<polyline points="4.8,60.9 6.6,55.3 8.4,61.1 9.5,60.0 10.2,55.6 12.0,59.2 12.3,55.3 13.8,49.3 14.2,52.5 15.6,55.2 17.0,51.5 17.4,48.5 19.2,57.1 19.8,57.2 21.0,57.6 22.6,63.7 22.8,67.1 24.5,60.0 24.6,56.8 26.4,55.3 28.2,62.8 30.0,75.3 31.1,76.9 31.8,74.4 33.6,75.1 33.9,72.2 35.4,74.0 36.7,78.8 37.2,80.7 39.0,72.6 40.5,73.1 40.8,75.4 42.3,80.6 42.6,79.5 44.2,84.4 44.4,85.8 46.2,75.9 47.0,77.8 48.0,81.4 49.8,77.1 50.8,78.8 51.6,80.8 53.4,72.9 53.6,74.0 55.2,72.1 55.5,68.4 57.0,74.4 57.4,77.8 58.8,73.0 59.2,70.3 60.6,67.2 62.4,73.0 64.2,70.3 64.9,72.2 66.0,76.7 67.8,70.0 69.6,76.4 70.5,75.0 71.4,71.7 73.2,79.4 73.3,76.9 75.0,71.6 76.1,73.1 76.8,75.2 78.6,70.9 79.0,75.0 80.4,80.9 81.8,80.6 82.2,76.6 84.0,83.7 85.5,79.7 85.8,78.2 87.6,84.4 89.3,84.4 89.4,83.1 91.2,88.7 93.0,90.0 94.8,88.1 96.6,90.4 97.7,88.1 98.4,85.5 100.2,89.8 101.5,89.1 102.0,86.4 103.8,92.8 105.3,91.9 105.6,90.7 107.4,100.3 108.1,98.5 109.2,94.9 111.0,97.5 111.8,94.7 112.8,93.9 114.6,102.4 114.7,99.4 116.4,92.9 116.5,93.8 118.2,102.6 119.4,102.2 120.0,102.1 121.8,109.5 122.2,106.9 123.6,106.3 124.0,110.7 125.4,108.3 125.9,106.0 127.2,104.6 127.8,108.8" fill="none" stroke="#2424a8" stroke-width="1.5" stroke-linejoin="miter" stroke-miterlimit="3"/>
<text x="132.8" y="58.1" class="lb">147.00</text>
<text x="132.8" y="81.1" class="lb">146.50</text>
<text x="132.8" y="103.1" class="lb">146.00</text>
<path d="M125,51.0L135,45.4H167V55.9H135Z" fill="url(#gg)" filter="url(#bl)"/>
<path d="M125,112.2L135,106.2H167V118.2H135Z" fill="url(#gp)" filter="url(#bl)"/>
<text x="132.8" y="54.6" class="lb hi">147.08</text>
<text x="132.8" y="115.4" class="lb lo">145.73</text>
<line x1="128.8" y1="107.9" x2="133" y2="107.9" stroke="#888" stroke-width="1" stroke-dasharray="1 1.5"/>
<path d="M143.5,103.7L133,107.9L143.5,111.5" fill="none" stroke="#5a5a5a" stroke-width="0.9"/>
<line x1="143.5" y1="103.3" x2="143.5" y2="112.1" stroke="#111" stroke-width="0.9"/></svg>
<div class="bt">1万円= 68</div></div>
<div class="card" style="left:177px;top:148px;height:139px"><div class="hdr"></div>
<div class="fbox"><svg class="flag" viewBox="0 0 21 15" preserveAspectRatio="none"><rect width="21" height="15" fill="#23307a"/><g transform="scale(0.5)"><path d="M0,0L21,15M21,0L0,15" stroke="#fff" stroke-width="3"/><path d="M0,0L21,15M21,0L0,15" stroke="#c8283c" stroke-width="1"/><path d="M10.5,0V15M0,7.5H21" stroke="#fff" stroke-width="4.2"/><path d="M10.5,0V15M0,7.5H21" stroke="#c8283c" stroke-width="2.4"/></g><g fill="#fff"><circle cx="5.2" cy="11.2" r="1.4"/><circle cx="15.5" cy="3" r="0.8"/><circle cx="17.8" cy="6.5" r="0.8"/><circle cx="15.5" cy="11.5" r="0.9"/><circle cx="13" cy="7" r="0.7"/></g><rect width="21" height="15" fill="url(#gl)"/><rect x="0.4" y="0.4" width="20.2" height="14.2" fill="none" stroke="#6a6070" stroke-opacity="0.55" stroke-width="0.8"/></svg></div>
<div class="name">豪ドル</div>
<div class="price hl"><b>82</b><i>.10</i></div>
<svg class="ch" width="166" height="137" viewBox="1 1 166 137"><polygon points="4.8,111.8 4.8,51.5 6.6,56.7 8.4,51.7 8.5,55.3 10.2,58.2 12.0,54.3 12.3,56.2 13.8,56.7 15.1,55.3 15.6,51.8 17.4,55.4 17.9,52.5 19.2,51.4 20.7,57.2 21.0,59.5 22.8,55.2 23.5,59.0 24.6,59.0 26.4,54.3 28.2,63.7 30.0,66.5 30.1,70.3 31.8,78.0 32.9,77.8 33.6,75.3 35.4,79.6 35.8,76.9 37.2,74.8 38.6,78.8 39.0,79.6 40.8,71.7 41.4,73.1 42.6,81.9 43.3,81.6 44.4,80.4 45.1,82.5 46.2,84.1 48.0,77.8 49.8,73.8 51.6,79.5 51.7,75.9 53.4,76.5 53.6,78.8 55.2,70.6 55.5,67.5 57.0,65.6 58.3,70.3 58.8,73.7 60.6,68.0 62.4,71.6 63.0,70.3 64.2,69.0 66.0,73.9 66.8,71.2 67.8,69.6 69.6,75.8 70.5,72.2 71.4,69.9 73.2,75.1 74.3,74.0 75.0,70.2 76.8,73.1 78.6,65.1 79.0,68.4 80.4,77.3 80.8,75.0 82.2,72.0 83.7,74.0 84.0,77.6 85.8,75.9 86.5,80.6 87.6,84.4 89.3,81.6 89.4,77.7 91.2,83.3 92.1,82.5 93.0,82.8 94.8,92.5 94.9,90.0 96.6,87.2 98.4,91.0 98.7,88.1 100.2,86.1 102.0,90.1 102.4,86.3 103.8,82.7 105.6,85.3 106.2,83.5 107.4,82.3 109.2,89.9 110.0,89.1 111.0,88.3 112.8,93.7 113.7,91.9 114.6,90.2 116.4,92.7 116.5,91.0 118.2,91.2 119.4,97.5 120.0,102.4 121.8,103.7 122.2,106.0 123.6,111.7 125.0,110.7 125.4,108.5 126.9,105.1 127.2,107.2 128.7,106.0 128.7,111.8" fill="#e5e5fb"/>
<line x1="25.2" y1="48" x2="25.2" y2="111.8" stroke="#e4e4ea" stroke-width="1"/>
<line x1="45.9" y1="48" x2="45.9" y2="111.8" stroke="#e4e4ea" stroke-width="1"/>
<line x1="66.6" y1="48" x2="66.6" y2="111.8" stroke="#e4e4ea" stroke-width="1"/>
<line x1="87.3" y1="48" x2="87.3" y2="111.8" stroke="#e4e4ea" stroke-width="1"/>
<line x1="108.0" y1="48" x2="108.0" y2="111.8" stroke="#e4e4ea" stroke-width="1"/>
<line x1="4" y1="53.5" x2="131" y2="53.5" stroke="#d0d0dc" stroke-width="1"/>
<line x1="4" y1="82.5" x2="131" y2="82.5" stroke="#d0d0dc" stroke-width="1"/>
<line x1="4" y1="110.5" x2="131" y2="110.5" stroke="#d0d0dc" stroke-width="1"/>
<text x="127.3" y="100.8" text-anchor="end" class="wm">AUD/JPY</text>
<polyline points="4.8,51.5 6.6,56.7 8.4,51.7 8.5,55.3 10.2,58.2 12.0,54.3 12.3,56.2 13.8,56.7 15.1,55.3 15.6,51.8 17.4,55.4 17.9,52.5 19.2,51.4 20.7,57.2 21.0,59.5 22.8,55.2 23.5,59.0 24.6,59.0 26.4,54.3 28.2,63.7 30.0,66.5 30.1,70.3 31.8,78.0 32.9,77.8 33.6,75.3 35.4,79.6 35.8,76.9 37.2,74.8 38.6,78.8 39.0,79.6 40.8,71.7 41.4,73.1 42.6,81.9 43.3,81.6 44.4,80.4 45.1,82.5 46.2,84.1 48.0,77.8 49.8,73.8 51.6,79.5 51.7,75.9 53.4,76.5 53.6,78.8 55.2,70.6 55.5,67.5 57.0,65.6 58.3,70.3 58.8,73.7 60.6,68.0 62.4,71.6 63.0,70.3 64.2,69.0 66.0,73.9 66.8,71.2 67.8,69.6 69.6,75.8 70.5,72.2 71.4,69.9 73.2,75.1 74.3,74.0 75.0,70.2 76.8,73.1 78.6,65.1 79.0,68.4 80.4,77.3 80.8,75.0 82.2,72.0 83.7,74.0 84.0,77.6 85.8,75.9 86.5,80.6 87.6,84.4 89.3,81.6 89.4,77.7 91.2,83.3 92.1,82.5 93.0,82.8 94.8,92.5 94.9,90.0 96.6,87.2 98.4,91.0 98.7,88.1 100.2,86.1 102.0,90.1 102.4,86.3 103.8,82.7 105.6,85.3 106.2,83.5 107.4,82.3 109.2,89.9 110.0,89.1 111.0,88.3 112.8,93.7 113.7,91.9 114.6,90.2 116.4,92.7 116.5,91.0 118.2,91.2 119.4,97.5 120.0,102.4 121.8,103.7 122.2,106.0 123.6,111.7 125.0,110.7 125.4,108.5 126.9,105.1 127.2,107.2 128.7,106.0" fill="none" stroke="#2424a8" stroke-width="1.5" stroke-linejoin="miter" stroke-miterlimit="3"/>
<text x="132.8" y="57.1" class="lb">83.000</text>
<text x="132.8" y="86.1" class="lb">82.500</text>
<path d="M125,51.0L135,45.4H167V55.9H135Z" fill="url(#gg)" filter="url(#bl)"/>
<path d="M125,112.2L135,106.2H167V118.2H135Z" fill="url(#gp)" filter="url(#bl)"/>
<text x="132.8" y="54.6" class="lb hi">83.055</text>
<text x="132.8" y="115.4" class="lb lo">81.994</text>
<line x1="129.7" y1="105.5" x2="133" y2="105.5" stroke="#888" stroke-width="1" stroke-dasharray="1 1.5"/>
<path d="M143.5,101.3L133,105.5L143.5,109.1" fill="none" stroke="#5a5a5a" stroke-width="0.9"/>
<line x1="143.5" y1="100.9" x2="143.5" y2="109.7" stroke="#111" stroke-width="0.9"/></svg>
<div class="bt">1万円= 121</div></div>
<div class="card" style="left:348px;top:148px;height:139px"><div class="hdr"></div>
<div class="fbox"><svg class="flag" style="left:5px;top:3px;width:15px;height:15px" viewBox="0 0 15 15"><rect width="15" height="15" fill="#c42430"/><path d="M6,3h3v3h3v3h-3v3h-3v-3h-3v-3h3z" fill="#fff"/><rect width="15" height="15" fill="url(#gl)"/></svg></div>
<div class="name">スイスフラン</div>
<div class="price"><b>112</b><i>.19</i></div>
<svg class="ch" width="166" height="137" viewBox="1 1 166 137"><polygon points="4.8,111.8 4.8,51.5 6.6,57.7 7.6,58.1 8.4,55.8 9.5,56.2 10.2,58.0 12.0,50.8 12.3,51.5 13.8,56.1 15.1,55.3 15.6,52.7 17.0,53.4 17.4,55.4 19.2,55.3 19.8,59.0 21.0,62.6 22.6,64.7 22.8,61.9 24.5,60.0 24.6,61.5 26.4,64.4 27.3,68.4 28.2,73.3 29.2,74.0 30.0,72.4 31.8,81.5 32.0,80.6 33.6,75.7 34.8,75.0 35.4,78.2 37.2,72.4 38.6,76.9 39.0,78.8 40.5,73.1 40.8,72.3 42.3,81.6 42.6,86.6 44.2,88.1 44.4,86.7 46.2,89.3 48.0,83.5 49.8,79.8 51.6,81.2 51.7,79.7 53.4,81.2 54.5,84.4 55.2,83.1 57.0,69.6 57.4,71.2 58.8,77.2 59.2,76.9 60.6,74.2 62.4,79.8 63.0,76.9 64.2,74.5 66.0,78.8 66.8,75.9 67.8,75.7 69.6,80.0 70.5,79.7 71.4,77.6 73.2,81.4 74.3,77.8 75.0,75.0 76.8,77.9 78.0,75.0 78.6,74.3 79.9,81.6 80.4,83.8 82.2,79.1 83.7,80.6 84.0,84.4 85.8,80.2 87.4,85.3 87.6,87.3 89.4,85.6 91.2,93.6 93.0,93.8 94.8,88.4 96.6,93.4 96.8,90.0 98.4,88.1 100.2,93.9 100.6,90.0 102.0,88.1 103.8,91.0 105.3,88.1 105.6,85.4 107.4,93.8 108.1,93.8 109.2,92.2 111.0,97.1 111.8,96.6 112.8,94.1 114.6,101.3 115.6,98.5 116.4,98.2 118.2,109.9 118.4,106.9 120.0,103.4 121.2,104.1 121.8,108.2 123.6,105.5 125.0,110.7 125.4,112.3 126.9,105.1 127.2,102.9 128.7,106.0 128.7,111.8" fill="#e5e5fb"/>
<line x1="25.2" y1="48" x2="25.2" y2="111.8" stroke="#e4e4ea" stroke-width="1"/>
<line x1="45.9" y1="48" x2="45.9" y2="111.8" stroke="#e4e4ea" stroke-width="1"/>
<line x1="66.6" y1="48" x2="66.6" y2="111.8" stroke="#e4e4ea" stroke-width="1"/>
<line x1="87.3" y1="48" x2="87.3" y2="111.8" stroke="#e4e4ea" stroke-width="1"/>
<line x1="108.0" y1="48" x2="108.0" y2="111.8" stroke="#e4e4ea" stroke-width="1"/>
<line x1="4" y1="83.5" x2="131" y2="83.5" stroke="#d0d0dc" stroke-width="1"/>
<text x="127.3" y="100.8" text-anchor="end" class="wm">CHF/JPY</text>
<polyline points="4.8,51.5 6.6,57.7 7.6,58.1 8.4,55.8 9.5,56.2 10.2,58.0 12.0,50.8 12.3,51.5 13.8,56.1 15.1,55.3 15.6,52.7 17.0,53.4 17.4,55.4 19.2,55.3 19.8,59.0 21.0,62.6 22.6,64.7 22.8,61.9 24.5,60.0 24.6,61.5 26.4,64.4 27.3,68.4 28.2,73.3 29.2,74.0 30.0,72.4 31.8,81.5 32.0,80.6 33.6,75.7 34.8,75.0 35.4,78.2 37.2,72.4 38.6,76.9 39.0,78.8 40.5,73.1 40.8,72.3 42.3,81.6 42.6,86.6 44.2,88.1 44.4,86.7 46.2,89.3 48.0,83.5 49.8,79.8 51.6,81.2 51.7,79.7 53.4,81.2 54.5,84.4 55.2,83.1 57.0,69.6 57.4,71.2 58.8,77.2 59.2,76.9 60.6,74.2 62.4,79.8 63.0,76.9 64.2,74.5 66.0,78.8 66.8,75.9 67.8,75.7 69.6,80.0 70.5,79.7 71.4,77.6 73.2,81.4 74.3,77.8 75.0,75.0 76.8,77.9 78.0,75.0 78.6,74.3 79.9,81.6 80.4,83.8 82.2,79.1 83.7,80.6 84.0,84.4 85.8,80.2 87.4,85.3 87.6,87.3 89.4,85.6 91.2,93.6 93.0,93.8 94.8,88.4 96.6,93.4 96.8,90.0 98.4,88.1 100.2,93.9 100.6,90.0 102.0,88.1 103.8,91.0 105.3,88.1 105.6,85.4 107.4,93.8 108.1,93.8 109.2,92.2 111.0,97.1 111.8,96.6 112.8,94.1 114.6,101.3 115.6,98.5 116.4,98.2 118.2,109.9 118.4,106.9 120.0,103.4 121.2,104.1 121.8,108.2 123.6,105.5 125.0,110.7 125.4,112.3 126.9,105.1 127.2,102.9 128.7,106.0" fill="none" stroke="#2424a8" stroke-width="1.5" stroke-linejoin="miter" stroke-miterlimit="3"/>
<text x="132.8" y="87.1" class="lb">112.50</text>
<path d="M125,51.0L135,45.4H167V55.9H135Z" fill="url(#gg)" filter="url(#bl)"/>
<path d="M125,112.2L135,106.2H167V118.2H135Z" fill="url(#gp)" filter="url(#bl)"/>
<text x="132.8" y="54.6" class="lb hi">112.96</text>
<text x="132.8" y="115.4" class="lb lo">112.10</text>
<line x1="129.7" y1="105.2" x2="133" y2="105.2" stroke="#888" stroke-width="1" stroke-dasharray="1 1.5"/>
<path d="M143.5,101.0L133,105.2L143.5,108.8" fill="none" stroke="#5a5a5a" stroke-width="0.9"/>
<line x1="143.5" y1="100.6" x2="143.5" y2="109.4" stroke="#111" stroke-width="0.9"/></svg>
<div class="bt">1万円= 89</div></div>
<div class="card" style="left:519px;top:148px;height:139px"><div class="hdr"></div>
<div class="bhl" style="top:112px;height:26px"></div>
<div class="fbox"><svg class="flag" viewBox="0 0 21 15" preserveAspectRatio="none"><rect width="21" height="7.5" fill="#d04040"/><rect y="7.5" width="21" height="7.5" fill="#203c8c"/><path d="M0,0L9,7.5L0,15" fill="#1e7a4a" stroke="#fff" stroke-width="3.5"/><path d="M0,0L9,7.5L0,15" fill="none" stroke="#f0c020" stroke-width="0"/><path d="M9,7.5H21" stroke="#fff" stroke-width="4.5"/><path d="M0,0L9,7.5L0,15M9,7.5H21" fill="none" stroke="#1e7a4a" stroke-width="2.6"/><path d="M0,2.5L6,7.5L0,12.5z" fill="#222" stroke="#e8c020" stroke-width="0.9"/><rect width="21" height="15" fill="url(#gl)"/><rect x="0.4" y="0.4" width="20.2" height="14.2" fill="none" stroke="#6a6070" stroke-opacity="0.55" stroke-width="0.8"/></svg></div>
<div class="name">ランド</div>
<div class="price"><b>8.292</b></div>
<svg class="ch" width="166" height="137" viewBox="1 1 166 137"><polygon points="4.8,111.8 4.8,65.6 6.6,61.8 8.4,68.8 9.5,70.3 10.2,64.5 12.0,65.0 12.3,62.8 13.8,56.7 14.2,59.0 15.6,62.4 16.0,61.8 17.4,54.5 17.9,54.3 19.2,60.3 19.8,57.2 21.0,53.6 22.6,52.5 22.8,55.6 24.6,51.4 25.4,54.3 26.4,55.2 27.3,51.5 28.2,50.8 29.2,55.3 30.0,59.3 31.8,59.6 32.0,63.7 33.6,63.9 34.8,61.8 35.4,60.7 37.2,65.3 37.6,64.7 39.0,61.1 40.5,60.9 40.8,63.8 42.3,64.7 42.6,61.3 44.4,68.9 45.1,67.5 46.2,65.6 48.0,67.8 48.9,65.6 49.8,61.2 51.6,65.4 52.7,63.7 53.4,59.9 55.2,62.5 55.5,60.0 57.0,57.4 58.8,62.8 59.2,60.9 60.6,58.5 62.4,65.0 63.0,62.8 64.2,59.9 66.0,66.5 67.7,62.8 67.8,60.1 69.6,64.7 71.4,62.5 71.5,63.7 73.2,66.7 75.0,59.4 75.2,61.8 76.8,64.7 78.6,60.7 79.9,65.6 80.4,68.4 82.2,62.8 84.0,69.9 85.5,66.5 85.8,65.0 87.6,71.2 89.3,71.2 89.4,67.7 91.2,74.5 93.0,71.6 93.1,75.0 94.8,74.9 96.6,69.0 97.7,71.2 98.4,74.0 100.2,66.2 101.5,69.4 102.0,72.5 103.8,65.1 105.3,66.5 105.6,68.7 107.1,70.3 107.4,70.0 109.0,77.8 109.2,80.5 111.0,76.6 111.8,79.7 112.8,81.6 114.6,77.8 114.7,81.6 116.4,86.4 117.5,85.3 118.2,84.3 119.4,91.0 120.0,96.4 121.2,102.2 121.8,103.4 123.1,111.6 123.6,110.7 125.0,104.1 125.4,101.1 126.9,99.4 127.2,101.5 128.7,101.3 128.7,111.8" fill="#e5e5fb"/>
<line x1="25.2" y1="48" x2="25.2" y2="111.8" stroke="#e4e4ea" stroke-width="1"/>
<line x1="45.9" y1="48" x2="45.9" y2="111.8" stroke="#e4e4ea" stroke-width="1"/>
<line x1="66.6" y1="48" x2="66.6" y2="111.8" stroke="#e4e4ea" stroke-width="1"/>
<line x1="87.3" y1="48" x2="87.3" y2="111.8" stroke="#e4e4ea" stroke-width="1"/>
<line x1="108.0" y1="48" x2="108.0" y2="111.8" stroke="#e4e4ea" stroke-width="1"/>
<line x1="4" y1="74.5" x2="131" y2="74.5" stroke="#d0d0dc" stroke-width="1"/>
<line x1="4" y1="100.5" x2="131" y2="100.5" stroke="#d0d0dc" stroke-width="1"/>
<text x="127.3" y="100.8" text-anchor="end" class="wm">ZAR/JPY</text>
<polyline points="4.8,65.6 6.6,61.8 8.4,68.8 9.5,70.3 10.2,64.5 12.0,65.0 12.3,62.8 13.8,56.7 14.2,59.0 15.6,62.4 16.0,61.8 17.4,54.5 17.9,54.3 19.2,60.3 19.8,57.2 21.0,53.6 22.6,52.5 22.8,55.6 24.6,51.4 25.4,54.3 26.4,55.2 27.3,51.5 28.2,50.8 29.2,55.3 30.0,59.3 31.8,59.6 32.0,63.7 33.6,63.9 34.8,61.8 35.4,60.7 37.2,65.3 37.6,64.7 39.0,61.1 40.5,60.9 40.8,63.8 42.3,64.7 42.6,61.3 44.4,68.9 45.1,67.5 46.2,65.6 48.0,67.8 48.9,65.6 49.8,61.2 51.6,65.4 52.7,63.7 53.4,59.9 55.2,62.5 55.5,60.0 57.0,57.4 58.8,62.8 59.2,60.9 60.6,58.5 62.4,65.0 63.0,62.8 64.2,59.9 66.0,66.5 67.7,62.8 67.8,60.1 69.6,64.7 71.4,62.5 71.5,63.7 73.2,66.7 75.0,59.4 75.2,61.8 76.8,64.7 78.6,60.7 79.9,65.6 80.4,68.4 82.2,62.8 84.0,69.9 85.5,66.5 85.8,65.0 87.6,71.2 89.3,71.2 89.4,67.7 91.2,74.5 93.0,71.6 93.1,75.0 94.8,74.9 96.6,69.0 97.7,71.2 98.4,74.0 100.2,66.2 101.5,69.4 102.0,72.5 103.8,65.1 105.3,66.5 105.6,68.7 107.1,70.3 107.4,70.0 109.0,77.8 109.2,80.5 111.0,76.6 111.8,79.7 112.8,81.6 114.6,77.8 114.7,81.6 116.4,86.4 117.5,85.3 118.2,84.3 119.4,91.0 120.0,96.4 121.2,102.2 121.8,103.4 123.1,111.6 123.6,110.7 125.0,104.1 125.4,101.1 126.9,99.4 127.2,101.5 128.7,101.3" fill="none" stroke="#2424a8" stroke-width="1.5" stroke-linejoin="miter" stroke-miterlimit="3"/>
<text x="132.8" y="78.1" class="lb">8.400</text>
<text x="132.8" y="104.1" class="lb">8.300</text>
<path d="M125,51.0L135,45.4H167V55.9H135Z" fill="url(#gg)" filter="url(#bl)"/>
<path d="M125,112.2L135,106.2H167V118.2H135Z" fill="url(#gp)" filter="url(#bl)"/>
<text x="132.8" y="54.6" class="lb hi">8.496</text>
<text x="132.8" y="115.4" class="lb lo">8.254</text>
<line x1="129.7" y1="102.0" x2="133" y2="102.0" stroke="#888" stroke-width="1" stroke-dasharray="1 1.5"/>
<path d="M143.5,97.8L133,102.0L143.5,105.6" fill="none" stroke="#5a5a5a" stroke-width="0.9"/>
<line x1="143.5" y1="97.4" x2="143.5" y2="106.2" stroke="#111" stroke-width="0.9"/></svg>
<div class="bt">1万円= 1,206</div></div>
<div class="card" style="left:6px;top:291px;height:138px"><div class="hdr"></div>
<div class="fbox"><svg class="flag" viewBox="0 0 21 15" preserveAspectRatio="none"><rect width="21" height="15" fill="#c42430"/><circle cx="8" cy="7.5" r="3.6" fill="#fff"/><circle cx="9" cy="7.5" r="2.9" fill="#c42430"/><circle cx="12.6" cy="7.5" r="1.1" fill="#fff"/><rect width="21" height="15" fill="url(#gl)"/><rect x="0.4" y="0.4" width="20.2" height="14.2" fill="none" stroke="#6a6070" stroke-opacity="0.55" stroke-width="0.8"/></svg></div>
<div class="name">トルコリラ</div>
<div class="price"><b>21</b><i>.98</i></div>
<svg class="ch" width="166" height="136" viewBox="1 1 166 136"><polygon points="4.8,111.8 4.8,53.3 6.6,52.4 8.4,53.6 9.5,50.5 10.2,49.9 11.3,54.3 12.0,56.4 13.2,56.2 13.8,51.8 15.6,54.0 16.0,52.4 17.4,48.7 18.8,50.1 19.2,54.1 21.0,50.6 21.7,52.4 22.8,54.7 24.5,51.5 24.6,48.7 26.4,53.8 27.3,53.3 28.2,50.7 29.2,52.4 30.0,57.2 30.1,54.3 31.1,69.3 31.8,73.6 32.0,77.8 33.6,76.2 33.9,72.1 35.4,69.9 35.8,71.2 37.2,78.0 37.6,77.8 39.0,79.9 39.5,82.5 40.8,77.9 41.4,72.1 42.6,71.9 43.3,77.8 44.4,81.3 46.1,79.6 46.2,76.4 48.0,82.5 49.8,81.9 51.6,73.7 51.7,76.8 53.4,79.4 55.2,77.5 55.5,79.6 57.0,82.6 58.8,76.4 59.2,79.6 60.6,82.9 62.4,80.8 63.0,82.5 64.2,83.4 66.0,78.6 66.8,79.6 67.8,80.8 69.6,74.5 71.4,76.8 73.2,78.8 75.0,73.9 76.1,77.8 76.8,81.1 78.6,75.4 79.9,75.9 80.4,78.1 82.2,73.9 84.0,77.8 84.6,76.8 85.8,74.8 87.6,81.2 89.3,77.8 89.4,76.5 91.2,81.0 93.0,77.3 93.1,78.7 94.8,81.0 96.6,74.2 96.8,77.8 98.4,78.3 99.6,75.9 100.2,73.1 101.5,70.2 102.0,72.7 103.4,74.9 103.8,72.5 105.3,75.9 105.6,78.1 107.1,82.5 107.4,82.1 109.0,88.1 109.2,91.8 110.9,99.4 111.0,95.5 112.8,97.5 114.6,106.9 114.7,105.0 116.4,101.7 117.5,103.1 118.2,107.2 120.0,106.0 120.3,107.8 121.8,111.6 123.1,109.7 123.6,107.2 125.4,107.9 125.9,104.1 127.2,99.8 128.7,103.1 128.7,111.8" fill="#e5e5fb"/>
<line x1="25.2" y1="48" x2="25.2" y2="111.8" stroke="#e4e4ea" stroke-width="1"/>
<line x1="45.9" y1="48" x2="45.9" y2="111.8" stroke="#e4e4ea" stroke-width="1"/>
<line x1="66.6" y1="48" x2="66.6" y2="111.8" stroke="#e4e4ea" stroke-width="1"/>
<line x1="87.3" y1="48" x2="87.3" y2="111.8" stroke="#e4e4ea" stroke-width="1"/>
<line x1="108.0" y1="48" x2="108.0" y2="111.8" stroke="#e4e4ea" stroke-width="1"/>
<line x1="4" y1="68.5" x2="131" y2="68.5" stroke="#d0d0dc" stroke-width="1"/>
<line x1="4" y1="101.5" x2="131" y2="101.5" stroke="#d0d0dc" stroke-width="1"/>
<text x="127.3" y="100.8" text-anchor="end" class="wm">TRY/JPY</text>
<polyline points="4.8,53.3 6.6,52.4 8.4,53.6 9.5,50.5 10.2,49.9 11.3,54.3 12.0,56.4 13.2,56.2 13.8,51.8 15.6,54.0 16.0,52.4 17.4,48.7 18.8,50.1 19.2,54.1 21.0,50.6 21.7,52.4 22.8,54.7 24.5,51.5 24.6,48.7 26.4,53.8 27.3,53.3 28.2,50.7 29.2,52.4 30.0,57.2 30.1,54.3 31.1,69.3 31.8,73.6 32.0,77.8 33.6,76.2 33.9,72.1 35.4,69.9 35.8,71.2 37.2,78.0 37.6,77.8 39.0,79.9 39.5,82.5 40.8,77.9 41.4,72.1 42.6,71.9 43.3,77.8 44.4,81.3 46.1,79.6 46.2,76.4 48.0,82.5 49.8,81.9 51.6,73.7 51.7,76.8 53.4,79.4 55.2,77.5 55.5,79.6 57.0,82.6 58.8,76.4 59.2,79.6 60.6,82.9 62.4,80.8 63.0,82.5 64.2,83.4 66.0,78.6 66.8,79.6 67.8,80.8 69.6,74.5 71.4,76.8 73.2,78.8 75.0,73.9 76.1,77.8 76.8,81.1 78.6,75.4 79.9,75.9 80.4,78.1 82.2,73.9 84.0,77.8 84.6,76.8 85.8,74.8 87.6,81.2 89.3,77.8 89.4,76.5 91.2,81.0 93.0,77.3 93.1,78.7 94.8,81.0 96.6,74.2 96.8,77.8 98.4,78.3 99.6,75.9 100.2,73.1 101.5,70.2 102.0,72.7 103.4,74.9 103.8,72.5 105.3,75.9 105.6,78.1 107.1,82.5 107.4,82.1 109.0,88.1 109.2,91.8 110.9,99.4 111.0,95.5 112.8,97.5 114.6,106.9 114.7,105.0 116.4,101.7 117.5,103.1 118.2,107.2 120.0,106.0 120.3,107.8 121.8,111.6 123.1,109.7 123.6,107.2 125.4,107.9 125.9,104.1 127.2,99.8 128.7,103.1" fill="none" stroke="#2424a8" stroke-width="1.5" stroke-linejoin="miter" stroke-miterlimit="3"/>
<text x="132.8" y="72.1" class="lb">22.500</text>
<text x="132.8" y="105.1" class="lb">22.000</text>
<path d="M125,51.0L135,45.4H167V55.9H135Z" fill="url(#gg)" filter="url(#bl)"/>
<path d="M125,112.2L135,106.2H167V118.2H135Z" fill="url(#gp)" filter="url(#bl)"/>
<text x="132.8" y="54.6" class="lb hi">22.770</text>
<text x="132.8" y="115.4" class="lb lo">21.861</text>
<line x1="129.7" y1="103.6" x2="133" y2="103.6" stroke="#888" stroke-width="1" stroke-dasharray="1 1.5"/>
<path d="M143.5,99.4L133,103.6L143.5,107.2" fill="none" stroke="#5a5a5a" stroke-width="0.9"/>
<line x1="143.5" y1="99.0" x2="143.5" y2="107.8" stroke="#111" stroke-width="0.9"/></svg>
<div class="bt">1万円= 454</div></div>
<div class="card" style="left:177px;top:291px;height:138px"><div class="hdr"></div>
<div class="fbox"><svg class="flag" viewBox="0 0 21 15" preserveAspectRatio="none"><rect width="21" height="15" fill="#23307a"/><g transform="scale(0.5)"><path d="M0,0L21,15M21,0L0,15" stroke="#fff" stroke-width="3"/><path d="M0,0L21,15M21,0L0,15" stroke="#c8283c" stroke-width="1"/><path d="M10.5,0V15M0,7.5H21" stroke="#fff" stroke-width="4.2"/><path d="M10.5,0V15M0,7.5H21" stroke="#c8283c" stroke-width="2.4"/></g><g fill="#d03040" stroke="#fff" stroke-width="0.3"><circle cx="15.5" cy="3.5" r="0.8"/><circle cx="17.8" cy="7" r="0.8"/><circle cx="15.5" cy="11.5" r="0.9"/><circle cx="13.3" cy="7.3" r="0.7"/></g><rect width="21" height="15" fill="url(#gl)"/><rect x="0.4" y="0.4" width="20.2" height="14.2" fill="none" stroke="#6a6070" stroke-opacity="0.55" stroke-width="0.8"/></svg></div>
<div class="name">ＮＺドル</div>
<div class="price"><b>75</b><i>.33</i></div>
<svg class="ch" width="166" height="136" viewBox="1 1 166 136"><polygon points="4.8,111.8 4.8,51.5 6.6,56.0 7.6,54.3 8.4,52.6 10.2,58.8 10.4,56.2 12.0,52.4 13.2,52.4 13.8,56.0 15.6,49.7 16.0,53.3 17.4,54.2 17.9,50.5 19.2,50.8 20.7,54.3 21.0,57.3 22.6,57.1 22.8,55.3 24.5,59.0 24.6,60.5 26.4,54.3 28.2,63.7 30.0,65.1 31.1,72.1 31.8,76.3 33.6,71.9 33.9,73.1 35.4,77.6 36.7,74.9 37.2,71.9 39.0,76.0 40.5,73.1 40.8,72.2 42.3,78.7 42.6,81.8 44.4,77.0 45.1,79.6 46.2,82.0 48.0,77.8 49.8,75.3 51.6,80.1 51.7,78.7 53.4,76.2 53.6,79.6 55.2,75.6 55.5,70.2 57.0,66.8 58.3,71.2 58.8,74.0 60.6,70.1 62.1,71.2 62.4,72.1 64.2,69.2 65.8,70.2 66.0,74.1 67.8,69.3 69.6,72.1 71.4,76.0 72.4,74.9 73.2,70.4 75.0,74.2 75.2,72.1 76.8,68.4 78.0,70.2 78.6,74.0 79.9,74.9 80.4,74.2 82.2,80.0 82.7,77.8 84.0,72.5 85.5,74.0 85.8,75.9 87.6,75.1 88.4,77.8 89.4,81.0 91.2,80.6 93.0,83.7 94.0,87.1 94.8,89.4 96.6,83.0 97.7,86.2 98.4,89.0 100.2,83.0 101.5,85.3 102.0,89.1 103.8,84.9 105.3,87.1 105.6,89.9 107.4,85.5 109.0,88.1 109.2,91.2 111.0,90.1 111.8,92.8 112.8,95.8 114.6,90.5 114.7,91.8 116.4,95.1 117.5,94.7 118.2,92.5 120.0,102.7 120.3,99.4 121.8,102.1 123.1,108.8 123.6,110.5 125.0,106.9 125.4,104.6 126.9,104.1 127.2,106.2 128.7,105.9 128.7,111.8" fill="#e5e5fb"/>
<line x1="25.2" y1="48" x2="25.2" y2="111.8" stroke="#e4e4ea" stroke-width="1"/>
<line x1="45.9" y1="48" x2="45.9" y2="111.8" stroke="#e4e4ea" stroke-width="1"/>
<line x1="66.6" y1="48" x2="66.6" y2="111.8" stroke="#e4e4ea" stroke-width="1"/>
<line x1="87.3" y1="48" x2="87.3" y2="111.8" stroke="#e4e4ea" stroke-width="1"/>
<line x1="108.0" y1="48" x2="108.0" y2="111.8" stroke="#e4e4ea" stroke-width="1"/>
<line x1="4" y1="63.5" x2="131" y2="63.5" stroke="#d0d0dc" stroke-width="1"/>
<line x1="4" y1="95.5" x2="131" y2="95.5" stroke="#d0d0dc" stroke-width="1"/>
<text x="127.3" y="100.8" text-anchor="end" class="wm">NZD/JPY</text>
<polyline points="4.8,51.5 6.6,56.0 7.6,54.3 8.4,52.6 10.2,58.8 10.4,56.2 12.0,52.4 13.2,52.4 13.8,56.0 15.6,49.7 16.0,53.3 17.4,54.2 17.9,50.5 19.2,50.8 20.7,54.3 21.0,57.3 22.6,57.1 22.8,55.3 24.5,59.0 24.6,60.5 26.4,54.3 28.2,63.7 30.0,65.1 31.1,72.1 31.8,76.3 33.6,71.9 33.9,73.1 35.4,77.6 36.7,74.9 37.2,71.9 39.0,76.0 40.5,73.1 40.8,72.2 42.3,78.7 42.6,81.8 44.4,77.0 45.1,79.6 46.2,82.0 48.0,77.8 49.8,75.3 51.6,80.1 51.7,78.7 53.4,76.2 53.6,79.6 55.2,75.6 55.5,70.2 57.0,66.8 58.3,71.2 58.8,74.0 60.6,70.1 62.1,71.2 62.4,72.1 64.2,69.2 65.8,70.2 66.0,74.1 67.8,69.3 69.6,72.1 71.4,76.0 72.4,74.9 73.2,70.4 75.0,74.2 75.2,72.1 76.8,68.4 78.0,70.2 78.6,74.0 79.9,74.9 80.4,74.2 82.2,80.0 82.7,77.8 84.0,72.5 85.5,74.0 85.8,75.9 87.6,75.1 88.4,77.8 89.4,81.0 91.2,80.6 93.0,83.7 94.0,87.1 94.8,89.4 96.6,83.0 97.7,86.2 98.4,89.0 100.2,83.0 101.5,85.3 102.0,89.1 103.8,84.9 105.3,87.1 105.6,89.9 107.4,85.5 109.0,88.1 109.2,91.2 111.0,90.1 111.8,92.8 112.8,95.8 114.6,90.5 114.7,91.8 116.4,95.1 117.5,94.7 118.2,92.5 120.0,102.7 120.3,99.4 121.8,102.1 123.1,108.8 123.6,110.5 125.0,106.9 125.4,104.6 126.9,104.1 127.2,106.2 128.7,105.9" fill="none" stroke="#2424a8" stroke-width="1.5" stroke-linejoin="miter" stroke-miterlimit="3"/>
<text x="132.8" y="67.1" class="lb">76.000</text>
<text x="132.8" y="99.1" class="lb">75.500</text>
<path d="M125,51.0L135,45.4H167V55.9H135Z" fill="url(#gg)" filter="url(#bl)"/>
<path d="M125,112.2L135,106.2H167V118.2H135Z" fill="url(#gp)" filter="url(#bl)"/>
<text x="132.8" y="54.6" class="lb hi">76.225</text>
<text x="132.8" y="115.4" class="lb lo">75.249</text>
<line x1="129.7" y1="106.5" x2="133" y2="106.5" stroke="#888" stroke-width="1" stroke-dasharray="1 1.5"/>
<path d="M143.5,102.3L133,106.5L143.5,110.1" fill="none" stroke="#5a5a5a" stroke-width="0.9"/>
<line x1="143.5" y1="101.9" x2="143.5" y2="110.7" stroke="#111" stroke-width="0.9"/></svg>
<div class="bt">1万円= 132</div></div>
<div class="card" style="left:348px;top:291px;height:138px"><div class="hdr"></div>
<div class="fbox"><svg class="flag" viewBox="0 0 21 15" preserveAspectRatio="none"><rect width="21" height="15" fill="#2a3580"/><path d="M0,0L21,15M21,0L0,15" stroke="#fff" stroke-width="3"/><path d="M0,0L21,15M21,0L0,15" stroke="#c8283c" stroke-width="1"/><path d="M10.5,0V15M0,7.5H21" stroke="#fff" stroke-width="4.2"/><path d="M10.5,0V15M0,7.5H21" stroke="#c8283c" stroke-width="2.4"/><rect width="21" height="15" fill="url(#gl)"/><rect x="0.4" y="0.4" width="20.2" height="14.2" fill="none" stroke="#6a6070" stroke-opacity="0.55" stroke-width="0.8"/></svg></div>
<div class="name">GBP／USD</div>
<div class="price"><b>1.3077</b></div>
<svg class="ch" width="166" height="136" viewBox="1 1 166 136"><polygon points="4.8,111.8 4.8,69.3 5.7,58.0 6.6,59.5 7.6,56.2 8.4,57.1 9.5,64.6 10.2,66.5 11.3,59.9 12.0,54.0 13.2,50.5 13.8,54.2 15.1,54.3 15.6,53.0 17.0,59.9 17.4,63.1 18.8,67.4 19.2,66.3 20.7,74.0 21.0,76.1 22.6,69.3 22.8,64.7 24.5,58.0 24.6,60.0 26.4,71.2 28.2,65.6 29.2,65.5 30.0,72.0 31.1,77.8 31.8,72.2 33.6,73.3 33.9,69.3 35.4,72.6 35.8,74.9 37.2,82.1 38.6,81.5 39.0,75.4 40.5,71.2 40.8,71.7 42.3,56.2 42.6,55.0 44.2,66.5 44.4,66.9 46.1,56.2 46.2,55.5 48.0,64.5 48.9,64.6 49.8,63.7 51.6,67.0 51.7,65.5 53.4,63.0 55.2,64.9 55.5,63.7 57.0,65.7 57.4,69.3 58.8,69.5 60.6,60.9 61.1,63.7 62.4,66.0 64.2,60.1 65.8,62.7 66.0,65.3 67.8,60.2 69.6,63.7 71.4,68.5 72.4,67.4 73.2,65.3 75.0,70.6 75.2,66.5 76.8,63.6 78.0,68.4 78.6,71.3 80.4,62.8 80.8,65.5 82.2,70.2 83.7,71.2 84.0,70.0 85.8,76.6 86.5,75.9 87.4,79.6 87.6,78.2 89.4,81.4 91.2,76.8 93.0,77.8 94.8,86.8 94.9,83.4 96.6,81.2 98.4,87.3 98.7,83.4 100.2,78.0 102.0,80.2 102.4,78.7 103.8,80.5 104.3,83.4 105.6,90.3 106.2,88.1 107.4,92.8 108.1,99.4 109.0,109.7 109.2,112.4 110.9,97.5 111.0,95.4 112.8,100.0 113.7,99.4 114.6,92.5 115.6,90.9 116.4,99.4 117.5,103.1 118.2,99.2 119.4,97.5 120.0,101.2 121.8,105.2 122.2,108.8 123.6,105.8 124.1,99.4 125.4,98.8 125.9,103.1 127.2,104.5 128.7,103.1 128.7,111.8" fill="#e5e5fb"/>
<line x1="25.2" y1="48" x2="25.2" y2="111.8" stroke="#e4e4ea" stroke-width="1"/>
<line x1="45.9" y1="48" x2="45.9" y2="111.8" stroke="#e4e4ea" stroke-width="1"/>
<line x1="66.6" y1="48" x2="66.6" y2="111.8" stroke="#e4e4ea" stroke-width="1"/>
<line x1="87.3" y1="48" x2="87.3" y2="111.8" stroke="#e4e4ea" stroke-width="1"/>
<line x1="108.0" y1="48" x2="108.0" y2="111.8" stroke="#e4e4ea" stroke-width="1"/>
<line x1="4" y1="85.5" x2="131" y2="85.5" stroke="#d0d0dc" stroke-width="1"/>
<text x="127.3" y="100.8" text-anchor="end" class="wm">GBP/USD</text>
<polyline points="4.8,69.3 5.7,58.0 6.6,59.5 7.6,56.2 8.4,57.1 9.5,64.6 10.2,66.5 11.3,59.9 12.0,54.0 13.2,50.5 13.8,54.2 15.1,54.3 15.6,53.0 17.0,59.9 17.4,63.1 18.8,67.4 19.2,66.3 20.7,74.0 21.0,76.1 22.6,69.3 22.8,64.7 24.5,58.0 24.6,60.0 26.4,71.2 28.2,65.6 29.2,65.5 30.0,72.0 31.1,77.8 31.8,72.2 33.6,73.3 33.9,69.3 35.4,72.6 35.8,74.9 37.2,82.1 38.6,81.5 39.0,75.4 40.5,71.2 40.8,71.7 42.3,56.2 42.6,55.0 44.2,66.5 44.4,66.9 46.1,56.2 46.2,55.5 48.0,64.5 48.9,64.6 49.8,63.7 51.6,67.0 51.7,65.5 53.4,63.0 55.2,64.9 55.5,63.7 57.0,65.7 57.4,69.3 58.8,69.5 60.6,60.9 61.1,63.7 62.4,66.0 64.2,60.1 65.8,62.7 66.0,65.3 67.8,60.2 69.6,63.7 71.4,68.5 72.4,67.4 73.2,65.3 75.0,70.6 75.2,66.5 76.8,63.6 78.0,68.4 78.6,71.3 80.4,62.8 80.8,65.5 82.2,70.2 83.7,71.2 84.0,70.0 85.8,76.6 86.5,75.9 87.4,79.6 87.6,78.2 89.4,81.4 91.2,76.8 93.0,77.8 94.8,86.8 94.9,83.4 96.6,81.2 98.4,87.3 98.7,83.4 100.2,78.0 102.0,80.2 102.4,78.7 103.8,80.5 104.3,83.4 105.6,90.3 106.2,88.1 107.4,92.8 108.1,99.4 109.0,109.7 109.2,112.4 110.9,97.5 111.0,95.4 112.8,100.0 113.7,99.4 114.6,92.5 115.6,90.9 116.4,99.4 117.5,103.1 118.2,99.2 119.4,97.5 120.0,101.2 121.8,105.2 122.2,108.8 123.6,105.8 124.1,99.4 125.4,98.8 125.9,103.1 127.2,104.5 128.7,103.1" fill="none" stroke="#2424a8" stroke-width="1.5" stroke-linejoin="miter" stroke-miterlimit="3"/>
<text x="132.8" y="89.1" class="lb">1.3100</text>
<path d="M125,51.0L135,45.4H167V55.9H135Z" fill="url(#gg)" filter="url(#bl)"/>
<path d="M125,112.2L135,106.2H167V118.2H135Z" fill="url(#gp)" filter="url(#bl)"/>
<text x="132.8" y="54.6" class="lb hi">1.3146</text>
<text x="132.8" y="115.4" class="lb lo">1.3067</text>
<line x1="129.7" y1="103.8" x2="133" y2="103.8" stroke="#888" stroke-width="1" stroke-dasharray="1 1.5"/>
<path d="M143.5,99.6L133,103.8L143.5,107.4" fill="none" stroke="#5a5a5a" stroke-width="0.9"/>
<line x1="143.5" y1="99.2" x2="143.5" y2="108.0" stroke="#111" stroke-width="0.9"/></svg></div>
<div class="card" style="left:519px;top:291px;height:138px"><div class="hdr"></div>
<div class="fbox"><svg class="flag" viewBox="0 0 21 15" preserveAspectRatio="none"><rect width="21" height="15" fill="#fff"/><rect width="5.2" height="15" fill="#c42430"/><rect x="15.8" width="5.2" height="15" fill="#c42430"/><path d="M10.5,3l1,2 1.5-.6-.6,2.8 1.6-1.2.4,1.2 1.2-.2-.6,1.6 .6.5-2.6,1.6.3,1h-1.5v2h-.6v-2h-1.5l.3-1-2.6-1.6.6-.5-.6-1.6 1.2.2.4-1.2 1.6,1.2-.6-2.8 1.5.6z" fill="#c42430"/><rect width="21" height="15" fill="url(#gl)"/><rect x="0.4" y="0.4" width="20.2" height="14.2" fill="none" stroke="#6a6070" stroke-opacity="0.55" stroke-width="0.8"/></svg></div>
<div class="name">カナダドル</div>
<div class="price hl"><b>85</b><i>.56</i></div>
<svg class="ch" width="166" height="136" viewBox="1 1 166 136"><polygon points="4.8,111.8 4.8,76.8 6.6,73.1 8.4,80.0 8.5,77.8 10.2,75.4 11.3,78.7 12.0,81.0 13.2,76.8 13.8,77.1 14.2,79.6 15.6,74.8 16.0,72.1 17.4,61.6 17.9,60.8 19.2,67.1 19.8,67.4 21.0,61.6 21.7,63.7 22.8,65.0 23.5,60.8 24.5,63.7 24.6,60.2 26.4,50.5 27.3,61.8 28.2,70.1 28.8,71.2 30.0,70.0 30.1,73.1 31.8,83.8 32.0,83.4 33.6,77.1 33.9,78.7 35.4,84.6 35.8,84.3 37.2,78.7 38.6,80.6 39.0,80.8 40.5,75.9 40.8,74.0 42.3,85.3 42.6,87.4 44.2,90.9 44.4,87.0 46.1,82.5 46.2,84.5 48.0,79.6 48.9,81.5 49.8,83.8 51.6,76.9 51.7,77.8 53.4,76.7 54.5,74.0 55.2,71.4 57.0,80.6 57.4,78.7 58.8,77.4 60.6,82.7 61.1,78.7 62.4,75.2 64.2,80.8 64.9,79.6 66.0,77.6 67.8,81.8 68.6,80.6 69.6,79.2 71.4,84.9 72.4,82.5 73.2,79.9 75.0,82.1 75.2,78.7 76.8,76.5 78.0,76.8 78.6,79.5 80.4,78.2 80.8,82.5 82.2,84.0 84.0,78.6 84.6,80.6 85.8,84.9 87.6,81.9 88.4,85.3 89.4,87.9 91.2,85.6 92.1,87.1 93.0,93.4 94.0,93.7 94.8,88.5 96.6,93.3 96.8,89.0 98.4,87.6 99.6,91.8 100.2,93.1 102.0,86.5 102.4,88.1 103.8,93.0 105.3,91.8 105.6,88.2 107.4,88.9 108.1,86.2 109.2,86.3 110.9,90.9 111.0,93.0 112.8,87.8 113.7,90.0 114.6,94.9 116.4,92.0 116.5,94.7 118.2,98.0 119.4,98.4 120.0,96.5 121.8,107.1 122.2,105.9 123.6,105.2 125.0,109.7 125.4,110.6 126.9,105.9 127.2,103.8 128.7,106.9 128.7,111.8" fill="#e5e5fb"/>
<line x1="25.2" y1="48" x2="25.2" y2="111.8" stroke="#e4e4ea" stroke-width="1"/>
<line x1="45.9" y1="48" x2="45.9" y2="111.8" stroke="#e4e4ea" stroke-width="1"/>
<line x1="66.6" y1="48" x2="66.6" y2="111.8" stroke="#e4e4ea" stroke-width="1"/>
<line x1="87.3" y1="48" x2="87.3" y2="111.8" stroke="#e4e4ea" stroke-width="1"/>
<line x1="108.0" y1="48" x2="108.0" y2="111.8" stroke="#e4e4ea" stroke-width="1"/>
<line x1="4" y1="72.5" x2="131" y2="72.5" stroke="#d0d0dc" stroke-width="1"/>
<line x1="4" y1="109.5" x2="131" y2="109.5" stroke="#d0d0dc" stroke-width="1"/>
<text x="127.3" y="100.8" text-anchor="end" class="wm">CAD/JPY</text>
<polyline points="4.8,76.8 6.6,73.1 8.4,80.0 8.5,77.8 10.2,75.4 11.3,78.7 12.0,81.0 13.2,76.8 13.8,77.1 14.2,79.6 15.6,74.8 16.0,72.1 17.4,61.6 17.9,60.8 19.2,67.1 19.8,67.4 21.0,61.6 21.7,63.7 22.8,65.0 23.5,60.8 24.5,63.7 24.6,60.2 26.4,50.5 27.3,61.8 28.2,70.1 28.8,71.2 30.0,70.0 30.1,73.1 31.8,83.8 32.0,83.4 33.6,77.1 33.9,78.7 35.4,84.6 35.8,84.3 37.2,78.7 38.6,80.6 39.0,80.8 40.5,75.9 40.8,74.0 42.3,85.3 42.6,87.4 44.2,90.9 44.4,87.0 46.1,82.5 46.2,84.5 48.0,79.6 48.9,81.5 49.8,83.8 51.6,76.9 51.7,77.8 53.4,76.7 54.5,74.0 55.2,71.4 57.0,80.6 57.4,78.7 58.8,77.4 60.6,82.7 61.1,78.7 62.4,75.2 64.2,80.8 64.9,79.6 66.0,77.6 67.8,81.8 68.6,80.6 69.6,79.2 71.4,84.9 72.4,82.5 73.2,79.9 75.0,82.1 75.2,78.7 76.8,76.5 78.0,76.8 78.6,79.5 80.4,78.2 80.8,82.5 82.2,84.0 84.0,78.6 84.6,80.6 85.8,84.9 87.6,81.9 88.4,85.3 89.4,87.9 91.2,85.6 92.1,87.1 93.0,93.4 94.0,93.7 94.8,88.5 96.6,93.3 96.8,89.0 98.4,87.6 99.6,91.8 100.2,93.1 102.0,86.5 102.4,88.1 103.8,93.0 105.3,91.8 105.6,88.2 107.4,88.9 108.1,86.2 109.2,86.3 110.9,90.9 111.0,93.0 112.8,87.8 113.7,90.0 114.6,94.9 116.4,92.0 116.5,94.7 118.2,98.0 119.4,98.4 120.0,96.5 121.8,107.1 122.2,105.9 123.6,105.2 125.0,109.7 125.4,110.6 126.9,105.9 127.2,103.8 128.7,106.9" fill="none" stroke="#2424a8" stroke-width="1.5" stroke-linejoin="miter" stroke-miterlimit="3"/>
<text x="132.8" y="76.1" class="lb">86.000</text>
<path d="M125,51.0L135,45.4H167V55.9H135Z" fill="url(#gg)" filter="url(#bl)"/>
<path d="M125,112.2L135,106.2H167V118.2H135Z" fill="url(#gp)" filter="url(#bl)"/>
<text x="132.8" y="54.6" class="lb hi">86.292</text>
<text x="132.8" y="115.4" class="lb lo">85.499</text>
<line x1="129.7" y1="106.8" x2="133" y2="106.8" stroke="#888" stroke-width="1" stroke-dasharray="1 1.5"/>
<path d="M143.5,102.6L133,106.8L143.5,110.4" fill="none" stroke="#5a5a5a" stroke-width="0.9"/>
<line x1="143.5" y1="102.2" x2="143.5" y2="111.0" stroke="#111" stroke-width="0.9"/></svg>
<div class="bt">1万円= 116</div></div>
<div class="card" style="left:6px;top:433px;height:139px"><div class="hdr"></div>
<div class="fbox"><svg class="flag" viewBox="0 0 21 15" preserveAspectRatio="none"><rect width="21" height="7.5" fill="#e0404a"/><rect y="7.5" width="21" height="7.5" fill="#fafafa"/><circle cx="4.6" cy="3.8" r="2.4" fill="#fff"/><circle cx="5.6" cy="3.8" r="2.2" fill="#e0404a"/><rect width="21" height="15" fill="url(#gl)"/><rect x="0.4" y="0.4" width="20.2" height="14.2" fill="none" stroke="#6a6070" stroke-opacity="0.55" stroke-width="0.8"/></svg></div>
<div class="name">シンガポールドル</div>
<div class="price"><b>81</b><i>.60</i></div>
<svg class="ch" width="166" height="137" viewBox="1 1 166 137"><polygon points="4.8,111.8 4.8,54.3 6.6,57.1 8.4,62.4 8.5,60.8 10.2,53.6 10.4,56.2 12.0,58.7 13.2,55.2 13.8,52.0 15.1,56.2 15.6,56.5 17.0,51.5 17.4,50.1 19.2,54.4 19.8,53.3 21.0,52.9 22.6,56.2 22.8,59.8 24.5,59.9 24.6,58.1 26.4,52.4 28.2,61.8 30.0,72.4 30.1,70.2 31.8,71.2 32.0,73.1 33.6,72.5 33.9,70.2 35.4,72.4 35.8,75.9 37.2,77.5 38.6,72.1 39.0,69.1 40.5,71.2 40.8,74.1 42.3,82.5 42.6,81.3 44.2,86.2 44.4,87.3 46.2,79.2 47.0,81.5 48.0,84.6 49.8,80.6 51.6,73.6 51.7,76.8 53.4,86.2 53.6,83.4 55.2,68.3 55.5,69.3 57.0,73.6 58.3,70.2 58.8,66.7 60.6,71.2 61.1,69.3 62.4,66.4 64.2,73.3 64.9,71.2 66.0,69.0 67.7,74.0 67.8,76.7 69.6,72.3 70.5,74.9 71.4,77.2 73.2,73.3 74.3,75.9 75.0,77.1 76.8,72.0 77.1,73.1 78.6,79.1 79.9,77.8 80.4,75.1 82.2,84.8 82.7,81.5 84.0,77.2 85.8,81.1 86.5,77.8 87.6,79.9 88.4,87.1 89.4,89.8 91.2,87.6 92.1,91.8 93.0,96.4 94.0,96.5 94.8,93.6 96.6,93.7 96.8,91.8 98.4,88.5 100.2,91.9 100.6,90.0 102.0,88.7 103.8,95.2 104.3,92.8 105.6,89.3 107.4,91.1 108.1,89.0 109.2,87.7 111.0,93.7 111.8,92.8 112.8,91.3 114.6,95.0 115.6,93.7 116.4,92.7 118.2,98.4 118.4,97.5 120.0,97.7 121.2,103.1 121.8,109.0 123.1,109.7 123.6,106.9 125.4,109.8 125.9,106.0 127.2,102.6 128.7,106.9 128.7,111.8" fill="#e5e5fb"/>
<line x1="25.2" y1="48" x2="25.2" y2="111.8" stroke="#e4e4ea" stroke-width="1"/>
<line x1="45.9" y1="48" x2="45.9" y2="111.8" stroke="#e4e4ea" stroke-width="1"/>
<line x1="66.6" y1="48" x2="66.6" y2="111.8" stroke="#e4e4ea" stroke-width="1"/>
<line x1="87.3" y1="48" x2="87.3" y2="111.8" stroke="#e4e4ea" stroke-width="1"/>
<line x1="108.0" y1="48" x2="108.0" y2="111.8" stroke="#e4e4ea" stroke-width="1"/>
<line x1="4" y1="72.5" x2="131" y2="72.5" stroke="#d0d0dc" stroke-width="1"/>
<text x="127.3" y="100.8" text-anchor="end" class="wm">SGD/JPY</text>
<polyline points="4.8,54.3 6.6,57.1 8.4,62.4 8.5,60.8 10.2,53.6 10.4,56.2 12.0,58.7 13.2,55.2 13.8,52.0 15.1,56.2 15.6,56.5 17.0,51.5 17.4,50.1 19.2,54.4 19.8,53.3 21.0,52.9 22.6,56.2 22.8,59.8 24.5,59.9 24.6,58.1 26.4,52.4 28.2,61.8 30.0,72.4 30.1,70.2 31.8,71.2 32.0,73.1 33.6,72.5 33.9,70.2 35.4,72.4 35.8,75.9 37.2,77.5 38.6,72.1 39.0,69.1 40.5,71.2 40.8,74.1 42.3,82.5 42.6,81.3 44.2,86.2 44.4,87.3 46.2,79.2 47.0,81.5 48.0,84.6 49.8,80.6 51.6,73.6 51.7,76.8 53.4,86.2 53.6,83.4 55.2,68.3 55.5,69.3 57.0,73.6 58.3,70.2 58.8,66.7 60.6,71.2 61.1,69.3 62.4,66.4 64.2,73.3 64.9,71.2 66.0,69.0 67.7,74.0 67.8,76.7 69.6,72.3 70.5,74.9 71.4,77.2 73.2,73.3 74.3,75.9 75.0,77.1 76.8,72.0 77.1,73.1 78.6,79.1 79.9,77.8 80.4,75.1 82.2,84.8 82.7,81.5 84.0,77.2 85.8,81.1 86.5,77.8 87.6,79.9 88.4,87.1 89.4,89.8 91.2,87.6 92.1,91.8 93.0,96.4 94.0,96.5 94.8,93.6 96.6,93.7 96.8,91.8 98.4,88.5 100.2,91.9 100.6,90.0 102.0,88.7 103.8,95.2 104.3,92.8 105.6,89.3 107.4,91.1 108.1,89.0 109.2,87.7 111.0,93.7 111.8,92.8 112.8,91.3 114.6,95.0 115.6,93.7 116.4,92.7 118.2,98.4 118.4,97.5 120.0,97.7 121.2,103.1 121.8,109.0 123.1,109.7 123.6,106.9 125.4,109.8 125.9,106.0 127.2,102.6 128.7,106.9" fill="none" stroke="#2424a8" stroke-width="1.5" stroke-linejoin="miter" stroke-miterlimit="3"/>
<text x="132.8" y="76.1" class="lb">82.000</text>
<path d="M125,51.0L135,45.4H167V55.9H135Z" fill="url(#gg)" filter="url(#bl)"/>
<path d="M125,112.2L135,106.2H167V118.2H135Z" fill="url(#gp)" filter="url(#bl)"/>
<text x="132.8" y="54.6" class="lb hi">82.260</text>
<text x="132.8" y="115.4" class="lb lo">81.529</text>
<line x1="129.7" y1="105.6" x2="133" y2="105.6" stroke="#888" stroke-width="1" stroke-dasharray="1 1.5"/>
<path d="M143.5,101.4L133,105.6L143.5,109.2" fill="none" stroke="#5a5a5a" stroke-width="0.9"/>
<line x1="143.5" y1="101.0" x2="143.5" y2="109.8" stroke="#111" stroke-width="0.9"/></svg>
<div class="bt">1万円= 122</div></div>
<div class="card" style="left:177px;top:433px;height:139px"><div class="hdr"></div>
<div class="fbox"><svg class="flag" viewBox="0 0 21 15" preserveAspectRatio="none"><rect width="21" height="7.5" fill="#2a3a9a"/><rect y="7.5" width="21" height="7.5" fill="#d02a3a"/><path d="M0,0L11,7.5L0,15z" fill="#fff"/><circle cx="3.8" cy="7.5" r="1.4" fill="#f0c830"/><rect width="21" height="15" fill="url(#gl)"/><rect x="0.4" y="0.4" width="20.2" height="14.2" fill="none" stroke="#6a6070" stroke-opacity="0.55" stroke-width="0.8"/></svg></div>
<div class="name">フィリピンペソ</div>
<div class="price"><b>2.0974</b></div>
<svg class="ch" width="166" height="137" viewBox="1 1 166 137"><polygon points="4.8,111.8 4.8,60.8 6.6,65.8 7.6,66.5 8.4,60.2 9.5,59.0 10.2,60.1 11.3,54.3 12.0,51.8 13.2,58.0 13.8,58.0 15.1,52.4 15.6,50.8 17.4,56.3 17.9,53.3 19.2,49.1 19.8,51.5 21.0,55.4 22.6,56.2 22.8,52.9 24.5,54.3 24.6,56.6 26.4,53.5 27.3,58.0 28.2,64.3 29.2,68.4 30.0,68.3 31.1,72.1 31.8,74.6 33.6,65.8 33.9,67.4 35.4,78.1 35.8,78.7 37.2,68.7 38.6,65.5 39.0,69.2 40.5,69.3 40.8,70.7 42.3,86.2 42.6,88.0 44.2,80.6 44.4,78.1 46.1,85.3 46.2,86.2 48.0,74.9 49.8,69.6 50.8,71.2 51.6,73.1 53.4,71.0 53.6,73.1 55.2,69.0 56.4,63.7 57.0,63.5 58.8,73.2 59.2,70.2 60.6,68.9 62.1,72.1 62.4,76.2 64.2,70.5 64.9,73.1 66.0,78.6 66.8,77.8 67.8,72.5 69.6,73.1 71.4,72.5 72.4,67.4 73.2,67.2 75.0,73.7 75.2,71.2 76.8,65.6 78.0,66.5 78.6,67.2 79.9,63.7 80.4,64.4 82.2,76.5 82.7,74.9 84.0,71.5 85.5,73.1 85.8,74.8 87.6,71.7 89.3,74.9 89.4,76.6 91.2,72.7 93.0,79.7 94.0,77.8 94.8,74.8 96.6,75.9 97.7,70.2 98.4,69.8 100.2,75.3 100.6,74.0 102.0,72.0 103.4,72.1 103.8,76.1 105.6,75.2 106.2,77.8 107.4,77.5 109.0,71.2 109.2,70.9 110.9,80.6 111.0,83.5 112.8,89.0 114.6,84.1 115.6,86.2 116.4,89.9 118.2,87.4 118.4,90.0 120.0,96.7 121.2,97.5 121.8,99.3 123.1,110.6 123.6,111.4 125.0,103.1 125.4,101.6 126.9,102.2 127.2,104.8 128.7,103.1 128.7,111.8" fill="#e5e5fb"/>
<line x1="25.2" y1="48" x2="25.2" y2="111.8" stroke="#e4e4ea" stroke-width="1"/>
<line x1="45.9" y1="48" x2="45.9" y2="111.8" stroke="#e4e4ea" stroke-width="1"/>
<line x1="66.6" y1="48" x2="66.6" y2="111.8" stroke="#e4e4ea" stroke-width="1"/>
<line x1="87.3" y1="48" x2="87.3" y2="111.8" stroke="#e4e4ea" stroke-width="1"/>
<line x1="108.0" y1="48" x2="108.0" y2="111.8" stroke="#e4e4ea" stroke-width="1"/>
<line x1="4" y1="62.5" x2="131" y2="62.5" stroke="#d0d0dc" stroke-width="1"/>
<line x1="4" y1="93.5" x2="131" y2="93.5" stroke="#d0d0dc" stroke-width="1"/>
<text x="127.3" y="100.8" text-anchor="end" class="wm">フィリピン PHP/JPY</text>
<polyline points="4.8,60.8 6.6,65.8 7.6,66.5 8.4,60.2 9.5,59.0 10.2,60.1 11.3,54.3 12.0,51.8 13.2,58.0 13.8,58.0 15.1,52.4 15.6,50.8 17.4,56.3 17.9,53.3 19.2,49.1 19.8,51.5 21.0,55.4 22.6,56.2 22.8,52.9 24.5,54.3 24.6,56.6 26.4,53.5 27.3,58.0 28.2,64.3 29.2,68.4 30.0,68.3 31.1,72.1 31.8,74.6 33.6,65.8 33.9,67.4 35.4,78.1 35.8,78.7 37.2,68.7 38.6,65.5 39.0,69.2 40.5,69.3 40.8,70.7 42.3,86.2 42.6,88.0 44.2,80.6 44.4,78.1 46.1,85.3 46.2,86.2 48.0,74.9 49.8,69.6 50.8,71.2 51.6,73.1 53.4,71.0 53.6,73.1 55.2,69.0 56.4,63.7 57.0,63.5 58.8,73.2 59.2,70.2 60.6,68.9 62.1,72.1 62.4,76.2 64.2,70.5 64.9,73.1 66.0,78.6 66.8,77.8 67.8,72.5 69.6,73.1 71.4,72.5 72.4,67.4 73.2,67.2 75.0,73.7 75.2,71.2 76.8,65.6 78.0,66.5 78.6,67.2 79.9,63.7 80.4,64.4 82.2,76.5 82.7,74.9 84.0,71.5 85.5,73.1 85.8,74.8 87.6,71.7 89.3,74.9 89.4,76.6 91.2,72.7 93.0,79.7 94.0,77.8 94.8,74.8 96.6,75.9 97.7,70.2 98.4,69.8 100.2,75.3 100.6,74.0 102.0,72.0 103.4,72.1 103.8,76.1 105.6,75.2 106.2,77.8 107.4,77.5 109.0,71.2 109.2,70.9 110.9,80.6 111.0,83.5 112.8,89.0 114.6,84.1 115.6,86.2 116.4,89.9 118.2,87.4 118.4,90.0 120.0,96.7 121.2,97.5 121.8,99.3 123.1,110.6 123.6,111.4 125.0,103.1 125.4,101.6 126.9,102.2 127.2,104.8 128.7,103.1" fill="none" stroke="#2424a8" stroke-width="1.5" stroke-linejoin="miter" stroke-miterlimit="3"/>
<text x="132.8" y="66.1" class="lb">2.1100</text>
<text x="132.8" y="97.1" class="lb">2.1000</text>
<path d="M125,51.0L135,45.4H167V55.9H135Z" fill="url(#gg)" filter="url(#bl)"/>
<path d="M125,112.2L135,106.2H167V118.2H135Z" fill="url(#gp)" filter="url(#bl)"/>
<text x="132.8" y="54.6" class="lb hi">2.1140</text>
<text x="132.8" y="115.4" class="lb lo">2.0941</text>
<line x1="129.7" y1="101.5" x2="133" y2="101.5" stroke="#888" stroke-width="1" stroke-dasharray="1 1.5"/>
<path d="M143.5,97.3L133,101.5L143.5,105.1" fill="none" stroke="#5a5a5a" stroke-width="0.9"/>
<line x1="143.5" y1="96.9" x2="143.5" y2="105.7" stroke="#111" stroke-width="0.9"/></svg>
<div class="bt">1万円= 4,767</div></div>
<div class="card" style="left:348px;top:433px;height:139px"><div class="hdr"></div>
<div class="fbox"><svg class="flag" viewBox="0 0 21 15" preserveAspectRatio="none"><rect width="21" height="15" fill="#c83040"/><rect y="2.5" width="21" height="10" fill="#fff"/><rect y="5" width="21" height="5" fill="#2a3070"/><rect width="21" height="15" fill="url(#gl)"/><rect x="0.4" y="0.4" width="20.2" height="14.2" fill="none" stroke="#6a6070" stroke-opacity="0.55" stroke-width="0.8"/></svg></div>
<div class="name">バーツ</div>
<div class="price"><b>3.350</b></div>
<svg class="ch" width="166" height="137" viewBox="1 1 166 137"><polygon points="4.8,111.8 4.8,55.2 6.6,61.5 7.6,59.0 8.4,56.9 10.2,58.7 10.4,55.2 12.0,51.4 12.3,52.4 13.8,57.9 14.2,54.3 15.6,52.5 16.0,53.3 17.4,55.6 17.9,51.5 19.2,52.3 19.8,57.1 21.0,60.1 21.7,56.2 22.8,53.7 24.5,59.9 24.6,61.7 26.4,59.2 27.3,61.8 28.2,66.4 30.0,64.5 30.1,66.5 31.8,73.3 32.0,72.1 33.6,65.7 33.9,66.5 35.4,76.7 35.8,74.9 37.2,68.5 38.6,69.3 39.0,73.5 40.5,73.1 40.8,72.7 42.3,80.6 42.6,84.8 44.2,83.4 44.4,80.7 46.2,83.1 47.0,80.6 48.0,77.6 49.8,78.7 51.6,79.2 52.7,75.9 53.4,75.4 54.5,77.8 55.2,77.0 56.4,68.4 57.0,66.8 58.8,72.9 60.2,71.2 60.6,67.3 62.4,73.5 63.9,70.2 64.2,68.2 66.0,75.2 66.8,72.1 67.8,69.5 69.6,75.9 71.4,76.6 72.4,73.1 73.2,68.7 75.0,72.4 75.2,71.2 76.8,69.2 78.0,70.2 78.6,72.9 80.4,71.3 80.8,75.9 82.2,79.7 84.0,74.3 84.6,77.8 85.8,77.8 86.5,74.9 87.6,74.3 89.3,79.6 89.4,83.4 91.2,80.9 92.1,83.4 93.0,86.5 94.8,87.7 94.9,89.0 96.6,94.8 96.8,92.8 98.4,87.1 99.6,89.0 100.2,91.4 102.0,85.6 103.4,87.1 103.8,88.9 105.6,81.9 106.2,82.5 107.4,88.7 109.0,88.1 109.2,85.9 111.0,88.4 111.8,86.2 112.8,85.2 114.6,92.4 114.7,89.0 116.4,88.7 117.5,91.8 118.2,97.4 120.0,96.6 120.3,99.4 121.8,107.6 122.2,106.9 123.6,108.4 124.1,110.6 125.4,111.7 125.9,106.9 127.2,102.6 128.7,105.0 128.7,111.8" fill="#e5e5fb"/>
<line x1="25.2" y1="48" x2="25.2" y2="111.8" stroke="#e4e4ea" stroke-width="1"/>
<line x1="45.9" y1="48" x2="45.9" y2="111.8" stroke="#e4e4ea" stroke-width="1"/>
<line x1="66.6" y1="48" x2="66.6" y2="111.8" stroke="#e4e4ea" stroke-width="1"/>
<line x1="87.3" y1="48" x2="87.3" y2="111.8" stroke="#e4e4ea" stroke-width="1"/>
<line x1="108.0" y1="48" x2="108.0" y2="111.8" stroke="#e4e4ea" stroke-width="1"/>
<line x1="4" y1="51.5" x2="131" y2="51.5" stroke="#d0d0dc" stroke-width="1"/>
<line x1="4" y1="69.5" x2="131" y2="69.5" stroke="#d0d0dc" stroke-width="1"/>
<line x1="4" y1="87.5" x2="131" y2="87.5" stroke="#d0d0dc" stroke-width="1"/>
<line x1="4" y1="104.5" x2="131" y2="104.5" stroke="#d0d0dc" stroke-width="1"/>
<text x="127.3" y="100.8" text-anchor="end" class="wm">タイ THB/JPY</text>
<polyline points="4.8,55.2 6.6,61.5 7.6,59.0 8.4,56.9 10.2,58.7 10.4,55.2 12.0,51.4 12.3,52.4 13.8,57.9 14.2,54.3 15.6,52.5 16.0,53.3 17.4,55.6 17.9,51.5 19.2,52.3 19.8,57.1 21.0,60.1 21.7,56.2 22.8,53.7 24.5,59.9 24.6,61.7 26.4,59.2 27.3,61.8 28.2,66.4 30.0,64.5 30.1,66.5 31.8,73.3 32.0,72.1 33.6,65.7 33.9,66.5 35.4,76.7 35.8,74.9 37.2,68.5 38.6,69.3 39.0,73.5 40.5,73.1 40.8,72.7 42.3,80.6 42.6,84.8 44.2,83.4 44.4,80.7 46.2,83.1 47.0,80.6 48.0,77.6 49.8,78.7 51.6,79.2 52.7,75.9 53.4,75.4 54.5,77.8 55.2,77.0 56.4,68.4 57.0,66.8 58.8,72.9 60.2,71.2 60.6,67.3 62.4,73.5 63.9,70.2 64.2,68.2 66.0,75.2 66.8,72.1 67.8,69.5 69.6,75.9 71.4,76.6 72.4,73.1 73.2,68.7 75.0,72.4 75.2,71.2 76.8,69.2 78.0,70.2 78.6,72.9 80.4,71.3 80.8,75.9 82.2,79.7 84.0,74.3 84.6,77.8 85.8,77.8 86.5,74.9 87.6,74.3 89.3,79.6 89.4,83.4 91.2,80.9 92.1,83.4 93.0,86.5 94.8,87.7 94.9,89.0 96.6,94.8 96.8,92.8 98.4,87.1 99.6,89.0 100.2,91.4 102.0,85.6 103.4,87.1 103.8,88.9 105.6,81.9 106.2,82.5 107.4,88.7 109.0,88.1 109.2,85.9 111.0,88.4 111.8,86.2 112.8,85.2 114.6,92.4 114.7,89.0 116.4,88.7 117.5,91.8 118.2,97.4 120.0,96.6 120.3,99.4 121.8,107.6 122.2,106.9 123.6,108.4 124.1,110.6 125.4,111.7 125.9,106.9 127.2,102.6 128.7,105.0" fill="none" stroke="#2424a8" stroke-width="1.5" stroke-linejoin="miter" stroke-miterlimit="3"/>
<text x="132.8" y="73.1" class="lb">3.3700</text>
<text x="132.8" y="91.1" class="lb">3.3600</text>
<text x="132.8" y="108.1" class="lb">3.3500</text>
<path d="M125,51.0L135,45.4H167V55.9H135Z" fill="url(#gg)" filter="url(#bl)"/>
<path d="M125,112.2L135,106.2H167V118.2H135Z" fill="url(#gp)" filter="url(#bl)"/>
<text x="132.8" y="54.6" class="lb hi">3.3806</text>
<text x="132.8" y="115.4" class="lb lo">3.3464</text>
<line x1="129.7" y1="105.1" x2="133" y2="105.1" stroke="#888" stroke-width="1" stroke-dasharray="1 1.5"/>
<path d="M143.5,100.9L133,105.1L143.5,108.7" fill="none" stroke="#5a5a5a" stroke-width="0.9"/>
<line x1="143.5" y1="100.5" x2="143.5" y2="109.3" stroke="#111" stroke-width="0.9"/></svg>
<div class="bt">1万円= 2,984</div></div>
<div class="card" style="left:519px;top:433px;height:139px"><div class="hdr"></div>
<div class="fbox"><svg class="flag" viewBox="0 0 21 15" preserveAspectRatio="none"><rect width="21" height="15" fill="#fff"/><rect y="0.00" width="21" height="1.07" fill="#cc2a3a"/><rect y="2.14" width="21" height="1.07" fill="#cc2a3a"/><rect y="4.29" width="21" height="1.07" fill="#cc2a3a"/><rect y="6.43" width="21" height="1.07" fill="#cc2a3a"/><rect y="8.57" width="21" height="1.07" fill="#cc2a3a"/><rect y="10.71" width="21" height="1.07" fill="#cc2a3a"/><rect y="12.86" width="21" height="1.07" fill="#cc2a3a"/><rect width="10.5" height="8.6" fill="#1a2a80"/><circle cx="4.3" cy="4.3" r="2.6" fill="#f0c830"/><circle cx="5.1" cy="4.3" r="2.2" fill="#1a2a80"/><circle cx="7.4" cy="4.3" r="1.2" fill="#f0c830"/><rect width="21" height="15" fill="url(#gl)"/><rect x="0.4" y="0.4" width="20.2" height="14.2" fill="none" stroke="#6a6070" stroke-opacity="0.55" stroke-width="0.8"/></svg></div>
<div class="name">リンギット</div>
<div class="price"><b>27</b><i>.36</i></div>
<svg class="ch" width="166" height="137" viewBox="1 1 166 137"><polygon points="4.8,111.8 4.8,60.8 6.6,66.5 8.4,66.8 8.5,64.6 10.2,64.7 10.4,67.4 12.0,68.6 13.2,65.5 13.8,64.1 15.1,68.4 15.6,66.2 17.0,51.5 17.4,49.3 18.8,55.2 19.2,58.8 20.7,63.7 21.0,61.2 22.6,66.5 22.8,67.0 24.5,61.8 24.6,59.8 26.4,60.8 28.2,68.4 30.0,75.7 30.1,74.0 31.8,73.1 32.9,74.9 33.6,78.8 35.4,75.5 35.8,77.8 37.2,80.7 38.6,76.8 39.0,73.2 40.8,80.1 41.4,78.7 42.6,79.4 44.2,89.0 44.4,92.3 46.2,84.5 48.0,86.2 49.8,86.1 50.8,84.3 51.6,82.7 53.4,89.8 53.6,87.1 55.2,77.4 55.5,77.8 57.0,80.0 58.3,78.7 58.8,76.9 60.6,81.0 62.1,79.6 62.4,76.4 64.2,82.7 65.8,81.5 66.0,79.2 67.8,83.8 68.6,80.6 69.6,77.4 71.4,82.5 73.2,96.8 73.3,95.6 75.0,92.8 76.1,92.8 76.8,96.5 78.6,88.4 79.0,91.8 80.4,97.5 81.8,96.5 82.2,93.8 84.0,97.7 85.5,95.6 85.8,94.5 87.6,100.1 89.3,100.3 89.4,98.0 91.2,103.8 93.0,101.8 93.1,105.0 94.8,108.6 96.6,104.8 96.8,105.9 98.4,107.8 99.6,103.1 100.2,100.9 102.0,108.1 103.4,105.0 103.8,103.2 105.3,107.8 105.6,111.8 107.1,111.6 107.4,105.7 109.0,89.0 109.2,92.0 111.0,87.9 111.8,90.9 112.8,91.0 113.7,89.0 114.6,91.1 115.6,96.5 116.4,98.7 118.2,96.0 118.4,98.4 120.0,102.1 121.2,101.2 121.8,99.6 123.6,108.2 124.0,105.9 125.4,102.3 126.9,103.1 127.2,105.2 128.7,104.1 128.7,111.8" fill="#e5e5fb"/>
<line x1="25.2" y1="48" x2="25.2" y2="111.8" stroke="#e4e4ea" stroke-width="1"/>
<line x1="45.9" y1="48" x2="45.9" y2="111.8" stroke="#e4e4ea" stroke-width="1"/>
<line x1="66.6" y1="48" x2="66.6" y2="111.8" stroke="#e4e4ea" stroke-width="1"/>
<line x1="87.3" y1="48" x2="87.3" y2="111.8" stroke="#e4e4ea" stroke-width="1"/>
<line x1="108.0" y1="48" x2="108.0" y2="111.8" stroke="#e4e4ea" stroke-width="1"/>
<line x1="4" y1="71.5" x2="131" y2="71.5" stroke="#d0d0dc" stroke-width="1"/>
<line x1="4" y1="93.5" x2="131" y2="93.5" stroke="#d0d0dc" stroke-width="1"/>
<text x="127.3" y="100.8" text-anchor="end" class="wm">マレーシア MYR/JPY</text>
<polyline points="4.8,60.8 6.6,66.5 8.4,66.8 8.5,64.6 10.2,64.7 10.4,67.4 12.0,68.6 13.2,65.5 13.8,64.1 15.1,68.4 15.6,66.2 17.0,51.5 17.4,49.3 18.8,55.2 19.2,58.8 20.7,63.7 21.0,61.2 22.6,66.5 22.8,67.0 24.5,61.8 24.6,59.8 26.4,60.8 28.2,68.4 30.0,75.7 30.1,74.0 31.8,73.1 32.9,74.9 33.6,78.8 35.4,75.5 35.8,77.8 37.2,80.7 38.6,76.8 39.0,73.2 40.8,80.1 41.4,78.7 42.6,79.4 44.2,89.0 44.4,92.3 46.2,84.5 48.0,86.2 49.8,86.1 50.8,84.3 51.6,82.7 53.4,89.8 53.6,87.1 55.2,77.4 55.5,77.8 57.0,80.0 58.3,78.7 58.8,76.9 60.6,81.0 62.1,79.6 62.4,76.4 64.2,82.7 65.8,81.5 66.0,79.2 67.8,83.8 68.6,80.6 69.6,77.4 71.4,82.5 73.2,96.8 73.3,95.6 75.0,92.8 76.1,92.8 76.8,96.5 78.6,88.4 79.0,91.8 80.4,97.5 81.8,96.5 82.2,93.8 84.0,97.7 85.5,95.6 85.8,94.5 87.6,100.1 89.3,100.3 89.4,98.0 91.2,103.8 93.0,101.8 93.1,105.0 94.8,108.6 96.6,104.8 96.8,105.9 98.4,107.8 99.6,103.1 100.2,100.9 102.0,108.1 103.4,105.0 103.8,103.2 105.3,107.8 105.6,111.8 107.1,111.6 107.4,105.7 109.0,89.0 109.2,92.0 111.0,87.9 111.8,90.9 112.8,91.0 113.7,89.0 114.6,91.1 115.6,96.5 116.4,98.7 118.2,96.0 118.4,98.4 120.0,102.1 121.2,101.2 121.8,99.6 123.6,108.2 124.0,105.9 125.4,102.3 126.9,103.1 127.2,105.2 128.7,104.1" fill="none" stroke="#2424a8" stroke-width="1.5" stroke-linejoin="miter" stroke-miterlimit="3"/>
<text x="132.8" y="75.1" class="lb">27.500</text>
<text x="132.8" y="97.1" class="lb">27.400</text>
<path d="M125,51.0L135,45.4H167V55.9H135Z" fill="url(#gg)" filter="url(#bl)"/>
<path d="M125,112.2L135,106.2H167V118.2H135Z" fill="url(#gp)" filter="url(#bl)"/>
<text x="132.8" y="54.6" class="lb hi">27.592</text>
<text x="132.8" y="115.4" class="lb lo">27.324</text>
<line x1="129.7" y1="103.4" x2="133" y2="103.4" stroke="#888" stroke-width="1" stroke-dasharray="1 1.5"/>
<path d="M143.5,99.2L133,103.4L143.5,107.0" fill="none" stroke="#5a5a5a" stroke-width="0.9"/>
<line x1="143.5" y1="98.8" x2="143.5" y2="107.6" stroke="#111" stroke-width="0.9"/></svg>
<div class="bt">1万円= 365</div></div>
<div class="card" style="left:6px;top:575px;height:139px"><div class="hdr"></div>
<div class="fbox"><svg class="flag" viewBox="0 0 21 15" preserveAspectRatio="none"><rect width="21" height="15" fill="#d8302a"/><circle cx="3.7" cy="3.7" r="1.9" fill="#f0d020"/><g fill="#f0d020"><circle cx="7.4" cy="1.6" r="0.55"/><circle cx="8.6" cy="3" r="0.55"/><circle cx="8.6" cy="4.9" r="0.55"/><circle cx="7.4" cy="6.2" r="0.55"/></g><rect width="21" height="15" fill="url(#gl)"/><rect x="0.4" y="0.4" width="20.2" height="14.2" fill="none" stroke="#6a6070" stroke-opacity="0.55" stroke-width="0.8"/></svg></div>
<div class="name">人民元</div>
<div class="price"><b>16</b><i>.31</i></div>
<svg class="ch" width="166" height="137" viewBox="1 1 166 137"><polygon points="4.8,111.8 4.8,51.5 6.6,55.2 7.6,53.3 8.4,51.1 9.5,56.2 10.2,58.3 11.3,51.5 12.0,51.4 13.2,56.2 13.8,58.6 15.1,53.3 15.6,51.0 17.0,56.2 17.4,57.5 17.9,52.4 19.2,56.8 19.8,60.8 21.0,62.5 21.7,61.8 22.8,61.8 24.5,67.4 24.6,70.3 26.4,60.8 28.2,68.4 30.0,72.5 31.1,77.8 31.8,82.1 32.9,82.5 33.6,79.5 34.8,79.6 35.4,88.8 35.8,89.0 37.2,77.9 37.6,79.6 39.0,82.3 40.5,80.6 40.8,78.0 42.3,89.0 42.6,90.8 44.2,92.8 44.4,89.1 46.1,90.0 46.2,93.5 48.0,86.0 48.9,86.2 49.8,89.0 51.6,82.7 51.7,85.3 53.4,88.3 53.6,84.3 55.2,78.0 55.5,78.7 57.0,82.1 58.8,76.7 59.2,80.6 60.6,83.8 62.4,79.4 63.0,81.5 64.2,83.3 66.0,79.2 66.8,83.4 67.8,86.1 69.6,84.3 71.4,98.4 72.4,82.5 73.2,78.5 75.0,83.9 75.2,82.5 76.8,78.5 78.0,81.5 78.6,81.4 79.9,70.2 80.4,68.2 81.8,76.8 82.2,77.9 84.0,74.7 84.6,76.8 85.8,78.8 87.4,78.7 87.6,75.6 89.4,82.2 91.2,81.5 93.0,79.5 94.8,87.3 94.9,85.3 96.6,80.3 98.4,85.4 98.7,81.5 100.2,80.2 102.0,85.1 102.4,82.5 103.8,76.8 105.3,78.7 105.6,81.2 107.4,75.9 108.1,77.8 109.2,81.8 110.9,83.4 111.0,80.2 112.8,88.8 113.7,89.0 114.6,87.4 116.4,95.3 116.5,92.8 118.2,92.9 119.4,97.5 120.0,99.9 121.8,98.6 122.2,102.2 123.6,112.5 124.0,110.6 125.4,107.3 125.9,108.8 126.9,102.2 127.2,104.0 128.7,101.2 128.7,111.8" fill="#e5e5fb"/>
<line x1="25.2" y1="48" x2="25.2" y2="111.8" stroke="#e4e4ea" stroke-width="1"/>
<line x1="45.9" y1="48" x2="45.9" y2="111.8" stroke="#e4e4ea" stroke-width="1"/>
<line x1="66.6" y1="48" x2="66.6" y2="111.8" stroke="#e4e4ea" stroke-width="1"/>
<line x1="87.3" y1="48" x2="87.3" y2="111.8" stroke="#e4e4ea" stroke-width="1"/>
<line x1="108.0" y1="48" x2="108.0" y2="111.8" stroke="#e4e4ea" stroke-width="1"/>
<line x1="4" y1="56.5" x2="131" y2="56.5" stroke="#d0d0dc" stroke-width="1"/>
<line x1="4" y1="71.5" x2="131" y2="71.5" stroke="#d0d0dc" stroke-width="1"/>
<line x1="4" y1="88.5" x2="131" y2="88.5" stroke="#d0d0dc" stroke-width="1"/>
<line x1="4" y1="104.5" x2="131" y2="104.5" stroke="#d0d0dc" stroke-width="1"/>
<text x="127.3" y="100.8" text-anchor="end" class="wm">CNY/JPY</text>
<polyline points="4.8,51.5 6.6,55.2 7.6,53.3 8.4,51.1 9.5,56.2 10.2,58.3 11.3,51.5 12.0,51.4 13.2,56.2 13.8,58.6 15.1,53.3 15.6,51.0 17.0,56.2 17.4,57.5 17.9,52.4 19.2,56.8 19.8,60.8 21.0,62.5 21.7,61.8 22.8,61.8 24.5,67.4 24.6,70.3 26.4,60.8 28.2,68.4 30.0,72.5 31.1,77.8 31.8,82.1 32.9,82.5 33.6,79.5 34.8,79.6 35.4,88.8 35.8,89.0 37.2,77.9 37.6,79.6 39.0,82.3 40.5,80.6 40.8,78.0 42.3,89.0 42.6,90.8 44.2,92.8 44.4,89.1 46.1,90.0 46.2,93.5 48.0,86.0 48.9,86.2 49.8,89.0 51.6,82.7 51.7,85.3 53.4,88.3 53.6,84.3 55.2,78.0 55.5,78.7 57.0,82.1 58.8,76.7 59.2,80.6 60.6,83.8 62.4,79.4 63.0,81.5 64.2,83.3 66.0,79.2 66.8,83.4 67.8,86.1 69.6,84.3 71.4,98.4 72.4,82.5 73.2,78.5 75.0,83.9 75.2,82.5 76.8,78.5 78.0,81.5 78.6,81.4 79.9,70.2 80.4,68.2 81.8,76.8 82.2,77.9 84.0,74.7 84.6,76.8 85.8,78.8 87.4,78.7 87.6,75.6 89.4,82.2 91.2,81.5 93.0,79.5 94.8,87.3 94.9,85.3 96.6,80.3 98.4,85.4 98.7,81.5 100.2,80.2 102.0,85.1 102.4,82.5 103.8,76.8 105.3,78.7 105.6,81.2 107.4,75.9 108.1,77.8 109.2,81.8 110.9,83.4 111.0,80.2 112.8,88.8 113.7,89.0 114.6,87.4 116.4,95.3 116.5,92.8 118.2,92.9 119.4,97.5 120.0,99.9 121.8,98.6 122.2,102.2 123.6,112.5 124.0,110.6 125.4,107.3 125.9,108.8 126.9,102.2 127.2,104.0 128.7,101.2" fill="none" stroke="#2424a8" stroke-width="1.5" stroke-linejoin="miter" stroke-miterlimit="3"/>
<text x="132.8" y="60.1" class="lb">16.450</text>
<text x="132.8" y="75.1" class="lb">16.400</text>
<text x="132.8" y="92.1" class="lb">16.350</text>
<text x="132.8" y="108.1" class="lb">16.300</text>
<path d="M125,51.0L135,45.4H167V55.9H135Z" fill="url(#gg)" filter="url(#bl)"/>
<path d="M125,112.2L135,106.2H167V118.2H135Z" fill="url(#gp)" filter="url(#bl)"/>
<text x="132.8" y="54.6" class="lb hi">16.467</text>
<text x="132.8" y="115.4" class="lb lo">16.276</text>
<line x1="129.7" y1="100.7" x2="133" y2="100.7" stroke="#888" stroke-width="1" stroke-dasharray="1 1.5"/>
<path d="M143.5,96.5L133,100.7L143.5,104.3" fill="none" stroke="#5a5a5a" stroke-width="0.9"/>
<line x1="143.5" y1="96.1" x2="143.5" y2="104.9" stroke="#111" stroke-width="0.9"/></svg>
<div class="bt">1万円= 613</div></div>
<div class="card" style="left:177px;top:575px;height:139px"><div class="hdr"></div>
<div class="fbox"><svg class="flag" viewBox="0 0 21 15" preserveAspectRatio="none"><rect width="21" height="15" fill="#fafafa"/><circle cx="10.5" cy="7.5" r="3.7" fill="#2a40a0"/><path d="M6.8,7.5a3.7,3.7 0 0 1 7.4,0a1.85,1.85 0 0 1 -3.7,0a1.85,1.85 0 0 0 -3.7,0z" fill="#d0283a"/><g stroke="#222" stroke-width="0.9"><path d="M2.5,3.8l2.2,-2.2M3.3,4.6l2.2,-2.2M16.3,1.6l2.2,2.2M15.5,2.4l2.2,2.2M2.5,11.2l2.2,2.2M3.3,10.4l2.2,2.2M16.3,13.4l2.2,-2.2M15.5,12.6l2.2,-2.2"/></g><rect width="21" height="15" fill="url(#gl)"/><rect x="0.4" y="0.4" width="20.2" height="14.2" fill="none" stroke="#6a6070" stroke-opacity="0.55" stroke-width="0.8"/></svg></div>
<div class="name">韓国ウォン</div>
<div class="price"><b>0.0988</b></div>
<svg class="ch" width="166" height="137" viewBox="1 1 166 137"><polygon points="4.8,111.8 4.8,53.3 6.6,57.1 8.4,60.4 8.5,59.0 10.2,53.7 11.3,55.2 12.0,57.0 13.8,52.8 14.2,54.3 15.6,58.2 16.0,56.2 17.4,51.8 18.8,52.4 19.2,55.4 20.7,55.2 21.0,52.4 22.8,54.2 23.5,51.5 24.6,50.1 26.4,52.4 28.2,58.5 29.2,57.1 30.0,57.1 31.1,61.8 31.8,65.3 33.6,60.1 33.9,63.7 35.4,65.7 36.7,60.8 37.2,57.5 38.6,62.7 39.0,63.6 40.5,59.0 40.8,58.4 42.3,65.5 42.6,70.0 44.2,74.0 44.4,71.0 46.2,72.9 47.0,70.2 48.0,66.2 49.8,67.4 51.6,72.2 52.7,69.3 53.4,64.8 55.2,67.6 55.5,65.5 57.0,64.4 58.8,68.2 59.2,67.4 60.6,63.1 62.4,68.3 63.0,66.5 64.2,63.9 66.0,70.6 66.8,68.4 67.8,65.9 69.6,71.7 70.5,69.3 71.4,65.2 73.2,70.3 73.3,67.4 75.0,64.9 76.1,66.5 76.8,67.5 78.0,65.5 78.6,63.7 79.9,67.4 80.4,72.0 82.2,69.8 82.7,72.1 84.0,76.9 85.5,75.9 85.8,74.2 87.4,83.4 87.6,84.9 89.4,81.8 90.2,83.4 91.2,88.4 93.0,86.5 93.1,89.0 94.8,90.8 96.6,85.7 96.8,88.1 98.4,88.6 100.2,83.3 100.6,86.2 102.0,88.3 102.4,85.3 103.8,85.4 105.3,90.9 105.6,92.5 107.4,84.6 108.1,87.1 109.2,92.8 110.9,92.8 111.0,90.2 112.8,94.7 113.7,93.7 114.6,93.5 116.4,98.8 116.5,97.5 118.2,98.4 119.4,101.2 120.0,105.7 121.2,105.9 121.8,104.8 123.1,110.6 123.6,111.7 125.4,104.6 125.9,107.8 127.2,108.5 128.7,103.1 128.7,111.8" fill="#e5e5fb"/>
<line x1="25.2" y1="48" x2="25.2" y2="111.8" stroke="#e4e4ea" stroke-width="1"/>
<line x1="45.9" y1="48" x2="45.9" y2="111.8" stroke="#e4e4ea" stroke-width="1"/>
<line x1="66.6" y1="48" x2="66.6" y2="111.8" stroke="#e4e4ea" stroke-width="1"/>
<line x1="87.3" y1="48" x2="87.3" y2="111.8" stroke="#e4e4ea" stroke-width="1"/>
<line x1="108.0" y1="48" x2="108.0" y2="111.8" stroke="#e4e4ea" stroke-width="1"/>
<line x1="4" y1="58.5" x2="131" y2="58.5" stroke="#d0d0dc" stroke-width="1"/>
<text x="127.3" y="100.8" text-anchor="end" class="wm">KRW/JPY</text>
<polyline points="4.8,53.3 6.6,57.1 8.4,60.4 8.5,59.0 10.2,53.7 11.3,55.2 12.0,57.0 13.8,52.8 14.2,54.3 15.6,58.2 16.0,56.2 17.4,51.8 18.8,52.4 19.2,55.4 20.7,55.2 21.0,52.4 22.8,54.2 23.5,51.5 24.6,50.1 26.4,52.4 28.2,58.5 29.2,57.1 30.0,57.1 31.1,61.8 31.8,65.3 33.6,60.1 33.9,63.7 35.4,65.7 36.7,60.8 37.2,57.5 38.6,62.7 39.0,63.6 40.5,59.0 40.8,58.4 42.3,65.5 42.6,70.0 44.2,74.0 44.4,71.0 46.2,72.9 47.0,70.2 48.0,66.2 49.8,67.4 51.6,72.2 52.7,69.3 53.4,64.8 55.2,67.6 55.5,65.5 57.0,64.4 58.8,68.2 59.2,67.4 60.6,63.1 62.4,68.3 63.0,66.5 64.2,63.9 66.0,70.6 66.8,68.4 67.8,65.9 69.6,71.7 70.5,69.3 71.4,65.2 73.2,70.3 73.3,67.4 75.0,64.9 76.1,66.5 76.8,67.5 78.0,65.5 78.6,63.7 79.9,67.4 80.4,72.0 82.2,69.8 82.7,72.1 84.0,76.9 85.5,75.9 85.8,74.2 87.4,83.4 87.6,84.9 89.4,81.8 90.2,83.4 91.2,88.4 93.0,86.5 93.1,89.0 94.8,90.8 96.6,85.7 96.8,88.1 98.4,88.6 100.2,83.3 100.6,86.2 102.0,88.3 102.4,85.3 103.8,85.4 105.3,90.9 105.6,92.5 107.4,84.6 108.1,87.1 109.2,92.8 110.9,92.8 111.0,90.2 112.8,94.7 113.7,93.7 114.6,93.5 116.4,98.8 116.5,97.5 118.2,98.4 119.4,101.2 120.0,105.7 121.2,105.9 121.8,104.8 123.1,110.6 123.6,111.7 125.4,104.6 125.9,107.8 127.2,108.5 128.7,103.1" fill="none" stroke="#2424a8" stroke-width="1.5" stroke-linejoin="miter" stroke-miterlimit="3"/>
<text x="132.8" y="62.1" class="lb">0.1000</text>
<path d="M125,51.0L135,45.4H167V55.9H135Z" fill="url(#gg)" filter="url(#bl)"/>
<path d="M125,112.2L135,106.2H167V118.2H135Z" fill="url(#gp)" filter="url(#bl)"/>
<text x="132.8" y="54.6" class="lb hi">0.1002</text>
<text x="132.8" y="115.4" class="lb lo">0.0985</text>
<line x1="129.7" y1="100.8" x2="133" y2="100.8" stroke="#888" stroke-width="1" stroke-dasharray="1 1.5"/>
<path d="M143.5,96.6L133,100.8L143.5,104.4" fill="none" stroke="#5a5a5a" stroke-width="0.9"/>
<line x1="143.5" y1="96.2" x2="143.5" y2="105.0" stroke="#111" stroke-width="0.9"/></svg>
<div class="bt">100円= 1,012</div></div>
<div class="card" style="left:348px;top:575px;height:139px"><div class="hdr"></div>
<div class="fbox"><svg class="flag" viewBox="0 0 21 15" preserveAspectRatio="none"><rect width="21" height="5" fill="#f49a3a"/><rect y="5" width="21" height="5" fill="#fafafa"/><rect y="10" width="21" height="5" fill="#2a8a3a"/><circle cx="10.5" cy="7.5" r="1.8" fill="none" stroke="#2a3a8a" stroke-width="0.5"/><rect width="21" height="15" fill="url(#gl)"/><rect x="0.4" y="0.4" width="20.2" height="14.2" fill="none" stroke="#6a6070" stroke-opacity="0.55" stroke-width="0.8"/></svg></div>
<div class="name">ルピー</div>
<div class="price"><b>1.6240</b></div>
<svg class="ch" width="166" height="137" viewBox="1 1 166 137"><polygon points="4.8,111.8 4.8,62.7 6.6,67.4 8.4,66.9 8.5,63.7 10.2,56.1 10.4,59.0 12.0,58.4 12.3,55.2 13.8,56.4 14.2,59.9 15.6,59.2 16.0,56.2 17.4,49.9 18.8,51.5 19.2,54.0 21.0,53.6 21.7,56.2 22.8,59.1 24.5,59.0 24.6,56.8 26.4,51.5 28.2,59.9 30.0,68.1 30.1,66.5 31.8,63.0 32.9,63.7 33.6,66.4 34.8,67.4 35.4,65.0 37.2,67.7 37.6,65.5 39.0,64.6 40.5,69.3 40.8,72.3 42.3,77.8 42.6,77.8 44.2,85.3 44.4,86.5 46.2,78.6 47.0,79.6 48.0,79.8 49.8,74.0 51.6,69.1 52.7,71.2 53.4,72.7 55.2,62.3 55.5,63.7 57.0,66.0 58.3,65.5 58.8,62.4 60.6,69.4 62.1,66.5 62.4,64.2 64.2,68.9 65.8,65.5 66.0,63.9 67.8,72.0 68.6,69.3 69.6,66.5 71.4,71.2 73.2,72.2 74.3,67.4 75.0,63.4 76.8,68.5 78.0,66.5 78.6,64.9 80.4,73.9 81.8,73.1 82.2,69.2 84.0,72.3 84.6,69.3 85.8,67.1 87.4,67.4 87.6,70.0 89.4,63.4 90.2,63.7 91.2,70.8 92.1,71.2 93.0,73.5 94.8,83.5 94.9,81.5 96.6,77.5 97.7,79.0 98.4,78.7 100.2,70.6 100.6,72.1 102.0,73.2 103.4,69.3 103.8,67.1 105.6,72.3 106.2,68.4 107.4,65.6 109.0,70.2 109.2,74.8 110.9,78.7 111.0,77.1 112.8,81.7 113.7,81.5 114.6,80.3 116.4,85.5 116.5,84.3 118.2,85.1 119.4,90.9 120.0,94.0 121.2,94.7 121.8,97.2 123.1,106.9 123.6,109.7 125.0,110.6 125.4,107.8 126.9,107.8 127.2,110.9 128.7,106.9 128.7,111.8" fill="#e5e5fb"/>
<line x1="25.2" y1="48" x2="25.2" y2="111.8" stroke="#e4e4ea" stroke-width="1"/>
<line x1="45.9" y1="48" x2="45.9" y2="111.8" stroke="#e4e4ea" stroke-width="1"/>
<line x1="66.6" y1="48" x2="66.6" y2="111.8" stroke="#e4e4ea" stroke-width="1"/>
<line x1="87.3" y1="48" x2="87.3" y2="111.8" stroke="#e4e4ea" stroke-width="1"/>
<line x1="108.0" y1="48" x2="108.0" y2="111.8" stroke="#e4e4ea" stroke-width="1"/>
<line x1="4" y1="82.5" x2="131" y2="82.5" stroke="#d0d0dc" stroke-width="1"/>
<text x="127.3" y="100.8" text-anchor="end" class="wm">インド INR/JPY</text>
<polyline points="4.8,62.7 6.6,67.4 8.4,66.9 8.5,63.7 10.2,56.1 10.4,59.0 12.0,58.4 12.3,55.2 13.8,56.4 14.2,59.9 15.6,59.2 16.0,56.2 17.4,49.9 18.8,51.5 19.2,54.0 21.0,53.6 21.7,56.2 22.8,59.1 24.5,59.0 24.6,56.8 26.4,51.5 28.2,59.9 30.0,68.1 30.1,66.5 31.8,63.0 32.9,63.7 33.6,66.4 34.8,67.4 35.4,65.0 37.2,67.7 37.6,65.5 39.0,64.6 40.5,69.3 40.8,72.3 42.3,77.8 42.6,77.8 44.2,85.3 44.4,86.5 46.2,78.6 47.0,79.6 48.0,79.8 49.8,74.0 51.6,69.1 52.7,71.2 53.4,72.7 55.2,62.3 55.5,63.7 57.0,66.0 58.3,65.5 58.8,62.4 60.6,69.4 62.1,66.5 62.4,64.2 64.2,68.9 65.8,65.5 66.0,63.9 67.8,72.0 68.6,69.3 69.6,66.5 71.4,71.2 73.2,72.2 74.3,67.4 75.0,63.4 76.8,68.5 78.0,66.5 78.6,64.9 80.4,73.9 81.8,73.1 82.2,69.2 84.0,72.3 84.6,69.3 85.8,67.1 87.4,67.4 87.6,70.0 89.4,63.4 90.2,63.7 91.2,70.8 92.1,71.2 93.0,73.5 94.8,83.5 94.9,81.5 96.6,77.5 97.7,79.0 98.4,78.7 100.2,70.6 100.6,72.1 102.0,73.2 103.4,69.3 103.8,67.1 105.6,72.3 106.2,68.4 107.4,65.6 109.0,70.2 109.2,74.8 110.9,78.7 111.0,77.1 112.8,81.7 113.7,81.5 114.6,80.3 116.4,85.5 116.5,84.3 118.2,85.1 119.4,90.9 120.0,94.0 121.2,94.7 121.8,97.2 123.1,106.9 123.6,109.7 125.0,110.6 125.4,107.8 126.9,107.8 127.2,110.9 128.7,106.9" fill="none" stroke="#2424a8" stroke-width="1.5" stroke-linejoin="miter" stroke-miterlimit="3"/>
<text x="132.8" y="86.1" class="lb">1.6300</text>
<path d="M125,51.0L135,45.4H167V55.9H135Z" fill="url(#gg)" filter="url(#bl)"/>
<path d="M125,112.2L135,106.2H167V118.2H135Z" fill="url(#gp)" filter="url(#bl)"/>
<text x="132.8" y="54.6" class="lb hi">1.6381</text>
<text x="132.8" y="115.4" class="lb lo">1.6225</text>
<line x1="129.7" y1="105.7" x2="133" y2="105.7" stroke="#888" stroke-width="1" stroke-dasharray="1 1.5"/>
<path d="M143.5,101.5L133,105.7L143.5,109.3" fill="none" stroke="#5a5a5a" stroke-width="0.9"/>
<line x1="143.5" y1="101.1" x2="143.5" y2="109.9" stroke="#111" stroke-width="0.9"/></svg>
<div class="bt">1万円= 6,157</div></div>
<div class="card" style="left:519px;top:575px;height:139px"><div class="hdr"></div>
<div class="fbox"><svg class="flag" viewBox="0 0 21 15" preserveAspectRatio="none"><rect width="21" height="15" fill="#c42430"/><g fill="#fff" transform="translate(10.5,7.5)"><ellipse cx="0" cy="-2.4" rx="1.3" ry="2.3" transform="rotate(0)"/><ellipse cx="0" cy="-2.4" rx="1.3" ry="2.3" transform="rotate(72)"/><ellipse cx="0" cy="-2.4" rx="1.3" ry="2.3" transform="rotate(144)"/><ellipse cx="0" cy="-2.4" rx="1.3" ry="2.3" transform="rotate(216)"/><ellipse cx="0" cy="-2.4" rx="1.3" ry="2.3" transform="rotate(288)"/></g><rect width="21" height="15" fill="url(#gl)"/><rect x="0.4" y="0.4" width="20.2" height="14.2" fill="none" stroke="#6a6070" stroke-opacity="0.55" stroke-width="0.8"/></svg></div>
<div class="name">香港ドル</div>
<div class="price"><b>14</b><i>.20</i></div>
<svg class="ch" width="166" height="137" viewBox="1 1 166 137"><polygon points="4.8,111.8 4.8,59.0 6.6,63.7 8.4,72.7 8.5,69.3 10.2,59.5 10.4,61.8 12.0,61.9 12.3,58.0 13.8,61.0 14.2,66.5 15.6,63.8 16.0,60.8 17.4,52.4 17.9,53.3 19.2,59.0 19.8,56.2 21.0,54.9 21.7,59.9 22.8,64.9 23.5,63.7 24.6,57.6 26.4,51.5 28.2,62.7 30.0,80.1 30.1,78.7 31.8,74.2 32.9,77.8 33.6,82.2 34.8,86.2 35.4,82.8 37.2,84.4 37.6,79.6 39.0,80.7 39.5,84.3 40.8,84.0 41.4,81.5 42.6,99.5 42.7,103.1 44.2,111.6 44.4,113.8 46.1,97.5 46.2,95.3 48.0,96.6 48.9,92.8 49.8,87.7 50.8,88.1 51.6,94.7 52.7,95.6 53.4,85.5 54.5,75.9 55.2,78.0 57.0,76.4 57.4,79.6 58.8,80.4 60.6,77.5 61.1,78.7 62.4,81.9 64.2,79.5 64.9,83.4 66.0,86.9 67.8,84.7 68.6,89.0 69.6,89.8 71.4,85.6 72.4,86.2 73.2,86.2 75.0,79.6 75.2,82.5 76.8,85.0 78.0,80.6 78.6,81.7 80.4,93.5 80.8,93.7 82.2,90.9 83.7,90.0 84.0,92.5 85.8,84.9 87.4,84.3 87.6,86.4 89.4,88.1 90.2,93.7 91.2,96.8 93.0,92.1 94.0,94.7 94.8,94.7 96.6,87.1 97.7,88.1 98.4,92.1 100.2,90.6 100.6,93.7 102.0,93.8 103.4,90.9 103.8,86.8 105.6,93.0 106.2,89.0 107.4,81.5 109.0,78.7 109.2,83.3 111.0,82.0 111.8,87.1 112.8,88.8 114.6,84.9 114.7,86.2 116.4,93.0 117.5,92.8 118.2,90.7 120.0,96.8 120.3,94.7 121.8,94.2 123.1,101.2 123.6,106.5 125.0,107.8 125.4,105.3 126.9,102.2 127.2,106.3 128.7,105.0 128.7,111.8" fill="#e5e5fb"/>
<line x1="25.2" y1="48" x2="25.2" y2="111.8" stroke="#e4e4ea" stroke-width="1"/>
<line x1="45.9" y1="48" x2="45.9" y2="111.8" stroke="#e4e4ea" stroke-width="1"/>
<line x1="66.6" y1="48" x2="66.6" y2="111.8" stroke="#e4e4ea" stroke-width="1"/>
<line x1="87.3" y1="48" x2="87.3" y2="111.8" stroke="#e4e4ea" stroke-width="1"/>
<line x1="108.0" y1="48" x2="108.0" y2="111.8" stroke="#e4e4ea" stroke-width="1"/>
<line x1="4" y1="66.5" x2="131" y2="66.5" stroke="#d0d0dc" stroke-width="1"/>
<line x1="4" y1="105.5" x2="131" y2="105.5" stroke="#d0d0dc" stroke-width="1"/>
<text x="127.3" y="100.8" text-anchor="end" class="wm">HKD/JPY</text>
<polyline points="4.8,59.0 6.6,63.7 8.4,72.7 8.5,69.3 10.2,59.5 10.4,61.8 12.0,61.9 12.3,58.0 13.8,61.0 14.2,66.5 15.6,63.8 16.0,60.8 17.4,52.4 17.9,53.3 19.2,59.0 19.8,56.2 21.0,54.9 21.7,59.9 22.8,64.9 23.5,63.7 24.6,57.6 26.4,51.5 28.2,62.7 30.0,80.1 30.1,78.7 31.8,74.2 32.9,77.8 33.6,82.2 34.8,86.2 35.4,82.8 37.2,84.4 37.6,79.6 39.0,80.7 39.5,84.3 40.8,84.0 41.4,81.5 42.6,99.5 42.7,103.1 44.2,111.6 44.4,113.8 46.1,97.5 46.2,95.3 48.0,96.6 48.9,92.8 49.8,87.7 50.8,88.1 51.6,94.7 52.7,95.6 53.4,85.5 54.5,75.9 55.2,78.0 57.0,76.4 57.4,79.6 58.8,80.4 60.6,77.5 61.1,78.7 62.4,81.9 64.2,79.5 64.9,83.4 66.0,86.9 67.8,84.7 68.6,89.0 69.6,89.8 71.4,85.6 72.4,86.2 73.2,86.2 75.0,79.6 75.2,82.5 76.8,85.0 78.0,80.6 78.6,81.7 80.4,93.5 80.8,93.7 82.2,90.9 83.7,90.0 84.0,92.5 85.8,84.9 87.4,84.3 87.6,86.4 89.4,88.1 90.2,93.7 91.2,96.8 93.0,92.1 94.0,94.7 94.8,94.7 96.6,87.1 97.7,88.1 98.4,92.1 100.2,90.6 100.6,93.7 102.0,93.8 103.4,90.9 103.8,86.8 105.6,93.0 106.2,89.0 107.4,81.5 109.0,78.7 109.2,83.3 111.0,82.0 111.8,87.1 112.8,88.8 114.6,84.9 114.7,86.2 116.4,93.0 117.5,92.8 118.2,90.7 120.0,96.8 120.3,94.7 121.8,94.2 123.1,101.2 123.6,106.5 125.0,107.8 125.4,105.3 126.9,102.2 127.2,106.3 128.7,105.0" fill="none" stroke="#2424a8" stroke-width="1.5" stroke-linejoin="miter" stroke-miterlimit="3"/>
<text x="132.8" y="70.1" class="lb">14.250</text>
<text x="132.8" y="109.1" class="lb">14.200</text>
<path d="M125,51.0L135,45.4H167V55.9H135Z" fill="url(#gg)" filter="url(#bl)"/>
<path d="M125,112.2L135,106.2H167V118.2H135Z" fill="url(#gp)" filter="url(#bl)"/>
<text x="132.8" y="54.6" class="lb hi">14.270</text>
<text x="132.8" y="115.4" class="lb lo">14.193</text>
<line x1="129.7" y1="106.0" x2="133" y2="106.0" stroke="#888" stroke-width="1" stroke-dasharray="1 1.5"/>
<path d="M143.5,101.8L133,106.0L143.5,109.6" fill="none" stroke="#5a5a5a" stroke-width="0.9"/>
<line x1="143.5" y1="101.4" x2="143.5" y2="110.2" stroke="#111" stroke-width="0.9"/></svg>
<div class="bt">1万円= 703</div></div>
<div class="card" style="left:6px;top:717px;height:138px"><div class="hdr"></div>
<div class="fbox"><svg class="flag" viewBox="0 0 21 15" preserveAspectRatio="none"><rect width="7" height="15" fill="#1e7a4a"/><rect x="7" width="7" height="15" fill="#fafafa"/><rect x="14" width="7" height="15" fill="#d02a3a"/><circle cx="10.5" cy="7.5" r="1.6" fill="#8a6a3a"/><rect width="21" height="15" fill="url(#gl)"/><rect x="0.4" y="0.4" width="20.2" height="14.2" fill="none" stroke="#6a6070" stroke-opacity="0.55" stroke-width="0.8"/></svg></div>
<div class="name">メキシコペソ</div>
<div class="price"><b>5.96</b></div>
<svg class="ch" width="166" height="136" viewBox="1 1 166 136"><polygon points="4.8,111.8 4.8,74.0 6.6,75.9 8.4,74.7 8.5,73.1 10.2,71.6 10.4,74.9 12.0,72.3 12.3,68.4 13.8,71.9 14.2,75.9 15.6,65.8 16.0,60.8 17.4,58.2 17.9,61.8 19.2,59.4 19.8,53.3 21.0,49.6 21.7,51.5 22.8,60.3 23.5,61.8 24.6,54.1 25.4,51.5 26.4,57.9 27.3,61.8 28.2,61.9 29.2,66.5 30.0,75.2 31.1,80.6 31.8,75.7 32.9,71.2 33.6,75.6 34.8,74.0 35.4,70.8 36.7,69.3 37.2,70.5 38.6,67.4 39.0,68.1 40.5,75.9 40.8,80.4 42.6,76.2 43.3,80.6 44.4,80.7 45.1,74.9 46.2,73.2 48.0,77.8 49.8,76.5 50.8,74.0 51.6,72.8 53.4,79.1 53.6,76.8 55.2,65.2 55.5,64.6 57.0,68.9 58.3,65.5 58.8,63.6 60.6,68.1 62.1,67.4 62.4,64.0 64.2,69.3 65.8,68.4 66.0,64.7 67.8,71.2 69.6,69.3 71.4,66.6 73.2,71.3 73.3,69.3 75.0,68.0 76.1,71.2 76.8,73.3 78.6,71.9 79.9,74.0 80.4,77.5 82.2,71.8 83.7,73.1 84.0,76.6 85.8,72.5 87.4,74.9 87.6,78.9 89.4,72.2 91.2,76.8 93.0,81.9 94.0,79.6 94.8,75.3 96.6,78.9 96.8,75.9 98.4,72.3 100.2,76.4 100.6,74.9 102.0,73.0 103.4,75.9 103.8,79.2 105.6,73.5 106.2,74.9 107.4,82.3 108.1,80.6 109.2,80.2 110.0,86.2 111.0,90.5 111.8,90.0 112.8,88.9 114.6,95.1 114.7,92.8 116.4,92.9 117.5,96.5 118.2,101.7 120.0,98.5 120.3,101.2 121.8,106.8 122.2,106.9 123.6,107.8 124.0,109.7 125.4,108.0 125.9,103.1 127.2,99.1 128.7,103.1 128.7,111.8" fill="#e5e5fb"/>
<line x1="25.2" y1="48" x2="25.2" y2="111.8" stroke="#e4e4ea" stroke-width="1"/>
<line x1="45.9" y1="48" x2="45.9" y2="111.8" stroke="#e4e4ea" stroke-width="1"/>
<line x1="66.6" y1="48" x2="66.6" y2="111.8" stroke="#e4e4ea" stroke-width="1"/>
<line x1="87.3" y1="48" x2="87.3" y2="111.8" stroke="#e4e4ea" stroke-width="1"/>
<line x1="108.0" y1="48" x2="108.0" y2="111.8" stroke="#e4e4ea" stroke-width="1"/>
<line x1="4" y1="72.5" x2="131" y2="72.5" stroke="#d0d0dc" stroke-width="1"/>
<text x="127.3" y="100.8" text-anchor="end" class="wm">MXN/JPY</text>
<polyline points="4.8,74.0 6.6,75.9 8.4,74.7 8.5,73.1 10.2,71.6 10.4,74.9 12.0,72.3 12.3,68.4 13.8,71.9 14.2,75.9 15.6,65.8 16.0,60.8 17.4,58.2 17.9,61.8 19.2,59.4 19.8,53.3 21.0,49.6 21.7,51.5 22.8,60.3 23.5,61.8 24.6,54.1 25.4,51.5 26.4,57.9 27.3,61.8 28.2,61.9 29.2,66.5 30.0,75.2 31.1,80.6 31.8,75.7 32.9,71.2 33.6,75.6 34.8,74.0 35.4,70.8 36.7,69.3 37.2,70.5 38.6,67.4 39.0,68.1 40.5,75.9 40.8,80.4 42.6,76.2 43.3,80.6 44.4,80.7 45.1,74.9 46.2,73.2 48.0,77.8 49.8,76.5 50.8,74.0 51.6,72.8 53.4,79.1 53.6,76.8 55.2,65.2 55.5,64.6 57.0,68.9 58.3,65.5 58.8,63.6 60.6,68.1 62.1,67.4 62.4,64.0 64.2,69.3 65.8,68.4 66.0,64.7 67.8,71.2 69.6,69.3 71.4,66.6 73.2,71.3 73.3,69.3 75.0,68.0 76.1,71.2 76.8,73.3 78.6,71.9 79.9,74.0 80.4,77.5 82.2,71.8 83.7,73.1 84.0,76.6 85.8,72.5 87.4,74.9 87.6,78.9 89.4,72.2 91.2,76.8 93.0,81.9 94.0,79.6 94.8,75.3 96.6,78.9 96.8,75.9 98.4,72.3 100.2,76.4 100.6,74.9 102.0,73.0 103.4,75.9 103.8,79.2 105.6,73.5 106.2,74.9 107.4,82.3 108.1,80.6 109.2,80.2 110.0,86.2 111.0,90.5 111.8,90.0 112.8,88.9 114.6,95.1 114.7,92.8 116.4,92.9 117.5,96.5 118.2,101.7 120.0,98.5 120.3,101.2 121.8,106.8 122.2,106.9 123.6,107.8 124.0,109.7 125.4,108.0 125.9,103.1 127.2,99.1 128.7,103.1" fill="none" stroke="#2424a8" stroke-width="1.5" stroke-linejoin="miter" stroke-miterlimit="3"/>
<text x="132.8" y="76.1" class="lb">6.0000</text>
<path d="M125,51.0L135,45.4H167V55.9H135Z" fill="url(#gg)" filter="url(#bl)"/>
<path d="M125,112.2L135,106.2H167V118.2H135Z" fill="url(#gp)" filter="url(#bl)"/>
<text x="132.8" y="54.6" class="lb hi">6.0306</text>
<text x="132.8" y="115.4" class="lb lo">5.9490</text>
<line x1="129.7" y1="103.3" x2="133" y2="103.3" stroke="#888" stroke-width="1" stroke-dasharray="1 1.5"/>
<path d="M143.5,99.1L133,103.3L143.5,106.9" fill="none" stroke="#5a5a5a" stroke-width="0.9"/>
<line x1="143.5" y1="98.7" x2="143.5" y2="107.5" stroke="#111" stroke-width="0.9"/></svg>
<div class="bt">1万円= 1,678</div></div>
<div class="card" style="left:177px;top:717px;height:138px"><div class="hdr"></div>
<div class="fbox"><svg class="flag" viewBox="0 0 21 15" preserveAspectRatio="none"><rect width="21" height="15" fill="#c42430"/><rect width="10.5" height="7.5" fill="#1a2a8a"/><circle cx="5.25" cy="3.75" r="2" fill="#fff"/><rect width="21" height="15" fill="url(#gl)"/><rect x="0.4" y="0.4" width="20.2" height="14.2" fill="none" stroke="#6a6070" stroke-opacity="0.55" stroke-width="0.8"/></svg></div>
<div class="name">台湾ドル</div>
<div class="price"><b>3.6226</b></div>
<svg class="ch" width="166" height="136" viewBox="1 1 166 136"><polygon points="5.7,111.8 5.7,83.4 6.6,57.1 7.5,61.4 8.5,58.0 9.3,55.8 10.4,56.2 11.1,55.9 12.3,52.4 12.9,48.7 14.2,53.3 14.7,54.4 16.0,51.5 16.5,50.3 18.3,55.2 18.8,52.4 20.1,52.3 20.7,55.2 21.9,60.1 23.5,58.0 23.7,56.2 25.5,61.3 26.4,57.1 27.3,57.5 28.2,61.8 29.1,68.2 30.1,69.3 30.9,68.3 32.0,75.9 32.7,78.5 34.5,70.4 34.8,74.0 36.3,77.5 38.1,73.6 38.6,74.9 39.9,79.0 41.4,75.9 41.7,74.0 43.3,81.5 43.5,83.5 45.3,80.6 46.1,82.5 47.1,85.4 48.9,80.6 50.7,78.4 51.7,81.5 52.5,84.1 53.6,78.7 54.3,74.0 55.5,74.9 56.1,79.1 57.9,73.4 59.2,76.8 59.7,80.0 61.5,74.6 63.0,77.8 63.3,79.5 65.1,73.4 66.8,76.8 66.9,78.8 68.7,74.4 70.5,78.7 72.3,82.1 74.1,74.9 74.3,77.8 75.9,78.4 77.7,72.6 78.0,75.9 79.5,80.4 80.8,78.7 81.3,77.5 83.1,81.4 83.7,80.6 84.9,78.3 86.7,82.4 87.4,81.5 88.5,78.8 90.3,86.9 91.2,85.3 92.1,83.6 93.9,90.2 94.0,88.1 95.7,85.7 96.8,89.0 97.5,91.7 98.7,86.2 99.3,84.4 101.1,88.9 102.4,87.1 102.9,84.7 104.7,90.7 106.2,90.0 106.5,87.4 108.3,94.2 110.0,92.8 110.1,90.6 111.9,96.8 113.7,94.7 115.5,93.9 117.3,99.5 117.5,98.4 119.1,96.6 120.3,102.2 120.9,105.3 122.7,103.9 123.1,106.9 124.5,111.8 125.0,110.6 126.3,102.4 126.9,104.1 128.1,108.6 128.7,105.0 128.7,111.8" fill="#e5e5fb"/>
<line x1="25.2" y1="48" x2="25.2" y2="111.8" stroke="#e4e4ea" stroke-width="1"/>
<line x1="45.9" y1="48" x2="45.9" y2="111.8" stroke="#e4e4ea" stroke-width="1"/>
<line x1="66.6" y1="48" x2="66.6" y2="111.8" stroke="#e4e4ea" stroke-width="1"/>
<line x1="87.3" y1="48" x2="87.3" y2="111.8" stroke="#e4e4ea" stroke-width="1"/>
<line x1="108.0" y1="48" x2="108.0" y2="111.8" stroke="#e4e4ea" stroke-width="1"/>
<line x1="4" y1="64.5" x2="131" y2="64.5" stroke="#d0d0dc" stroke-width="1"/>
<text x="127.3" y="100.8" text-anchor="end" class="wm">台湾 TWD/JPY</text>
<polyline points="5.7,83.4 6.6,57.1 7.5,61.4 8.5,58.0 9.3,55.8 10.4,56.2 11.1,55.9 12.3,52.4 12.9,48.7 14.2,53.3 14.7,54.4 16.0,51.5 16.5,50.3 18.3,55.2 18.8,52.4 20.1,52.3 20.7,55.2 21.9,60.1 23.5,58.0 23.7,56.2 25.5,61.3 26.4,57.1 27.3,57.5 28.2,61.8 29.1,68.2 30.1,69.3 30.9,68.3 32.0,75.9 32.7,78.5 34.5,70.4 34.8,74.0 36.3,77.5 38.1,73.6 38.6,74.9 39.9,79.0 41.4,75.9 41.7,74.0 43.3,81.5 43.5,83.5 45.3,80.6 46.1,82.5 47.1,85.4 48.9,80.6 50.7,78.4 51.7,81.5 52.5,84.1 53.6,78.7 54.3,74.0 55.5,74.9 56.1,79.1 57.9,73.4 59.2,76.8 59.7,80.0 61.5,74.6 63.0,77.8 63.3,79.5 65.1,73.4 66.8,76.8 66.9,78.8 68.7,74.4 70.5,78.7 72.3,82.1 74.1,74.9 74.3,77.8 75.9,78.4 77.7,72.6 78.0,75.9 79.5,80.4 80.8,78.7 81.3,77.5 83.1,81.4 83.7,80.6 84.9,78.3 86.7,82.4 87.4,81.5 88.5,78.8 90.3,86.9 91.2,85.3 92.1,83.6 93.9,90.2 94.0,88.1 95.7,85.7 96.8,89.0 97.5,91.7 98.7,86.2 99.3,84.4 101.1,88.9 102.4,87.1 102.9,84.7 104.7,90.7 106.2,90.0 106.5,87.4 108.3,94.2 110.0,92.8 110.1,90.6 111.9,96.8 113.7,94.7 115.5,93.9 117.3,99.5 117.5,98.4 119.1,96.6 120.3,102.2 120.9,105.3 122.7,103.9 123.1,106.9 124.5,111.8 125.0,110.6 126.3,102.4 126.9,104.1 128.1,108.6 128.7,105.0" fill="none" stroke="#2424a8" stroke-width="1.5" stroke-linejoin="miter" stroke-miterlimit="3"/>
<text x="132.8" y="68.1" class="lb">3.6500</text>
<path d="M125,51.0L135,45.4H167V55.9H135Z" fill="url(#gg)" filter="url(#bl)"/>
<path d="M125,112.2L135,106.2H167V118.2H135Z" fill="url(#gp)" filter="url(#bl)"/>
<text x="132.8" y="54.6" class="lb hi">3.6594</text>
<text x="132.8" y="115.4" class="lb lo">3.6181</text>
<line x1="129.7" y1="104.9" x2="133" y2="104.9" stroke="#888" stroke-width="1" stroke-dasharray="1 1.5"/>
<path d="M143.5,100.7L133,104.9L143.5,108.5" fill="none" stroke="#5a5a5a" stroke-width="0.9"/>
<line x1="143.5" y1="100.3" x2="143.5" y2="109.1" stroke="#111" stroke-width="0.9"/></svg>
<div class="bt">1万円= 2,760</div></div>
<div class="card" style="left:348px;top:717px;height:138px"><div class="hdr"></div>
<div class="fbox"><svg class="flag" viewBox="0 0 21 15" preserveAspectRatio="none"><rect width="21" height="5" fill="#fafafa"/><rect y="5" width="21" height="5" fill="#2a40a0"/><rect y="10" width="21" height="5" fill="#d42a3a"/><rect width="21" height="15" fill="url(#gl)"/><rect x="0.4" y="0.4" width="20.2" height="14.2" fill="none" stroke="#6a6070" stroke-opacity="0.55" stroke-width="0.8"/></svg></div>
<div class="name">ルーブル</div>
<div class="price"><b>1.7623</b></div>
<svg class="ch" width="166" height="136" viewBox="1 1 166 136"><polygon points="4.8,111.8 4.8,51.5 6.6,55.2 8.4,58.1 8.5,54.3 10.2,56.3 10.4,60.8 12.0,65.3 12.3,61.8 13.8,62.0 14.2,63.7 15.6,64.6 17.0,59.9 17.4,58.3 18.8,62.7 19.2,65.3 21.0,61.3 21.7,62.7 22.8,66.6 23.5,66.5 24.6,60.9 26.4,58.0 28.2,65.5 30.0,71.9 31.1,73.1 31.8,73.1 33.6,82.6 33.9,82.5 35.4,80.7 36.7,81.5 37.2,84.1 39.0,76.9 39.5,78.7 40.8,83.8 41.4,82.5 42.6,84.0 43.3,90.0 44.4,90.2 46.1,85.3 46.2,84.0 48.0,86.7 48.9,82.5 49.8,79.4 51.6,84.5 51.7,81.5 53.4,79.8 54.5,83.4 55.2,86.3 56.4,80.6 57.0,78.8 58.8,85.1 60.2,82.5 60.6,80.5 62.4,85.8 63.9,83.4 64.2,80.6 66.0,86.4 67.7,85.3 67.8,84.0 69.6,87.7 71.4,85.3 73.2,81.7 75.0,87.1 75.2,84.3 76.8,80.9 78.0,82.5 78.6,86.2 80.4,84.1 80.8,86.2 82.2,87.4 84.0,83.5 84.6,85.3 85.8,87.9 87.4,83.4 87.6,81.9 89.4,85.7 91.2,85.3 93.0,85.4 94.8,89.1 94.9,88.1 96.6,84.6 97.7,85.3 98.4,88.2 100.2,82.4 101.5,86.2 102.0,88.1 103.8,83.5 105.3,85.3 105.6,87.1 107.4,82.6 108.1,84.3 109.2,89.9 110.9,90.0 111.0,87.3 112.8,90.5 113.7,88.1 114.6,87.7 116.4,94.2 116.5,90.9 118.2,90.3 118.4,93.7 120.0,100.4 120.3,97.5 121.8,101.7 122.2,105.0 123.6,110.4 125.0,110.6 125.4,105.9 126.9,105.9 127.2,108.7 128.7,105.9 128.7,111.8" fill="#e5e5fb"/>
<line x1="25.2" y1="48" x2="25.2" y2="111.8" stroke="#e4e4ea" stroke-width="1"/>
<line x1="45.9" y1="48" x2="45.9" y2="111.8" stroke="#e4e4ea" stroke-width="1"/>
<line x1="66.6" y1="48" x2="66.6" y2="111.8" stroke="#e4e4ea" stroke-width="1"/>
<line x1="87.3" y1="48" x2="87.3" y2="111.8" stroke="#e4e4ea" stroke-width="1"/>
<line x1="108.0" y1="48" x2="108.0" y2="111.8" stroke="#e4e4ea" stroke-width="1"/>
<line x1="4" y1="63.5" x2="131" y2="63.5" stroke="#d0d0dc" stroke-width="1"/>
<line x1="4" y1="86.5" x2="131" y2="86.5" stroke="#d0d0dc" stroke-width="1"/>
<text x="127.3" y="100.8" text-anchor="end" class="wm">ルーブル RUB/JPY</text>
<polyline points="4.8,51.5 6.6,55.2 8.4,58.1 8.5,54.3 10.2,56.3 10.4,60.8 12.0,65.3 12.3,61.8 13.8,62.0 14.2,63.7 15.6,64.6 17.0,59.9 17.4,58.3 18.8,62.7 19.2,65.3 21.0,61.3 21.7,62.7 22.8,66.6 23.5,66.5 24.6,60.9 26.4,58.0 28.2,65.5 30.0,71.9 31.1,73.1 31.8,73.1 33.6,82.6 33.9,82.5 35.4,80.7 36.7,81.5 37.2,84.1 39.0,76.9 39.5,78.7 40.8,83.8 41.4,82.5 42.6,84.0 43.3,90.0 44.4,90.2 46.1,85.3 46.2,84.0 48.0,86.7 48.9,82.5 49.8,79.4 51.6,84.5 51.7,81.5 53.4,79.8 54.5,83.4 55.2,86.3 56.4,80.6 57.0,78.8 58.8,85.1 60.2,82.5 60.6,80.5 62.4,85.8 63.9,83.4 64.2,80.6 66.0,86.4 67.7,85.3 67.8,84.0 69.6,87.7 71.4,85.3 73.2,81.7 75.0,87.1 75.2,84.3 76.8,80.9 78.0,82.5 78.6,86.2 80.4,84.1 80.8,86.2 82.2,87.4 84.0,83.5 84.6,85.3 85.8,87.9 87.4,83.4 87.6,81.9 89.4,85.7 91.2,85.3 93.0,85.4 94.8,89.1 94.9,88.1 96.6,84.6 97.7,85.3 98.4,88.2 100.2,82.4 101.5,86.2 102.0,88.1 103.8,83.5 105.3,85.3 105.6,87.1 107.4,82.6 108.1,84.3 109.2,89.9 110.9,90.0 111.0,87.3 112.8,90.5 113.7,88.1 114.6,87.7 116.4,94.2 116.5,90.9 118.2,90.3 118.4,93.7 120.0,100.4 120.3,97.5 121.8,101.7 122.2,105.0 123.6,110.4 125.0,110.6 125.4,105.9 126.9,105.9 127.2,108.7 128.7,105.9" fill="none" stroke="#2424a8" stroke-width="1.5" stroke-linejoin="miter" stroke-miterlimit="3"/>
<text x="132.8" y="67.1" class="lb">1.7800</text>
<text x="132.8" y="90.1" class="lb">1.7700</text>
<path d="M125,51.0L135,45.4H167V55.9H135Z" fill="url(#gg)" filter="url(#bl)"/>
<path d="M125,112.2L135,106.2H167V118.2H135Z" fill="url(#gp)" filter="url(#bl)"/>
<text x="132.8" y="54.6" class="lb hi">1.7856</text>
<text x="132.8" y="115.4" class="lb lo">1.7596</text>
<line x1="129.7" y1="105.2" x2="133" y2="105.2" stroke="#888" stroke-width="1" stroke-dasharray="1 1.5"/>
<path d="M143.5,101.0L133,105.2L143.5,108.8" fill="none" stroke="#5a5a5a" stroke-width="0.9"/>
<line x1="143.5" y1="100.6" x2="143.5" y2="109.4" stroke="#111" stroke-width="0.9"/></svg>
<div class="bt">1万円= 5,674</div></div>
<div class="card" style="left:519px;top:717px;height:138px"><div class="hdr"></div>
<div class="fbox"><svg class="flag" viewBox="0 0 21 15" preserveAspectRatio="none"><rect width="21" height="15" fill="#8ac0e8"/><rect y="5" width="21" height="5" fill="#fafafa"/><circle cx="10.5" cy="7.5" r="1.5" fill="#f0c030"/><rect width="21" height="15" fill="url(#gl)"/><rect x="0.4" y="0.4" width="20.2" height="14.2" fill="none" stroke="#6a6070" stroke-opacity="0.55" stroke-width="0.8"/></svg></div>
<div class="name">ペソ<span class="n2">アルゼンチン</span></div>
<div class="price"><b>4.05</b></div>
<svg class="ch" width="166" height="136" viewBox="1 1 166 136"><polygon points="4.8,111.8 4.8,56.2 6.6,55.2 8.4,61.0 8.5,58.0 10.2,52.9 10.4,56.2 12.0,58.5 12.3,57.1 13.8,52.4 14.2,56.2 15.1,59.0 15.6,58.6 17.0,51.5 17.4,48.5 18.8,51.5 19.2,59.9 19.8,69.3 20.4,100.3 21.0,77.0 21.3,70.2 22.6,93.7 22.8,94.4 24.5,86.2 24.6,83.4 26.4,91.8 28.2,90.0 30.0,95.8 30.1,92.8 31.8,91.2 32.0,94.7 32.9,105.0 33.6,111.9 33.9,111.6 34.8,101.2 35.4,92.9 36.7,86.2 37.2,84.2 38.6,63.7 39.0,65.7 39.5,71.2 40.5,80.6 40.8,81.6 41.4,75.9 42.6,75.6 43.3,81.5 44.4,86.4 45.1,84.3 46.2,79.2 47.0,79.6 48.0,79.8 49.8,74.9 51.6,69.9 52.7,73.1 53.4,75.8 54.5,76.8 55.2,72.6 57.0,77.1 57.4,73.1 58.8,72.0 60.6,75.9 61.1,74.0 62.4,72.4 64.2,77.4 64.9,74.9 66.0,73.4 67.8,80.1 68.6,76.8 69.6,72.8 71.4,78.1 72.4,75.9 73.2,72.0 75.0,76.4 76.1,74.9 76.8,73.4 78.6,77.1 79.0,74.0 80.4,72.5 81.8,77.8 82.2,81.1 84.0,73.0 84.6,76.8 85.8,80.0 87.4,75.9 87.6,74.2 89.4,80.6 91.2,78.7 93.0,74.5 94.8,79.1 94.9,77.8 96.6,74.9 98.4,78.3 98.7,76.8 100.2,75.8 102.0,80.1 102.4,77.8 103.8,74.1 105.6,80.1 106.2,75.9 107.4,73.7 109.0,74.0 109.2,76.7 111.0,71.4 111.8,75.9 112.8,79.4 114.6,74.0 115.6,76.8 116.4,79.1 118.2,75.7 118.4,78.7 120.0,81.6 121.2,80.6 121.8,77.9 123.6,84.3 124.0,81.5 125.4,81.4 125.9,84.3 127.2,87.1 127.8,83.4 129.0,82.4 129.7,85.3 129.7,111.8" fill="#e5e5fb"/>
<line x1="25.2" y1="48" x2="25.2" y2="111.8" stroke="#e4e4ea" stroke-width="1"/>
<line x1="45.9" y1="48" x2="45.9" y2="111.8" stroke="#e4e4ea" stroke-width="1"/>
<line x1="66.6" y1="48" x2="66.6" y2="111.8" stroke="#e4e4ea" stroke-width="1"/>
<line x1="87.3" y1="48" x2="87.3" y2="111.8" stroke="#e4e4ea" stroke-width="1"/>
<line x1="108.0" y1="48" x2="108.0" y2="111.8" stroke="#e4e4ea" stroke-width="1"/>
<line x1="4" y1="85.5" x2="131" y2="85.5" stroke="#d0d0dc" stroke-width="1"/>
<text x="127.3" y="100.8" text-anchor="end" class="wm">ARS/JPY</text>
<polyline points="4.8,56.2 6.6,55.2 8.4,61.0 8.5,58.0 10.2,52.9 10.4,56.2 12.0,58.5 12.3,57.1 13.8,52.4 14.2,56.2 15.1,59.0 15.6,58.6 17.0,51.5 17.4,48.5 18.8,51.5 19.2,59.9 19.8,69.3 20.4,100.3 21.0,77.0 21.3,70.2 22.6,93.7 22.8,94.4 24.5,86.2 24.6,83.4 26.4,91.8 28.2,90.0 30.0,95.8 30.1,92.8 31.8,91.2 32.0,94.7 32.9,105.0 33.6,111.9 33.9,111.6 34.8,101.2 35.4,92.9 36.7,86.2 37.2,84.2 38.6,63.7 39.0,65.7 39.5,71.2 40.5,80.6 40.8,81.6 41.4,75.9 42.6,75.6 43.3,81.5 44.4,86.4 45.1,84.3 46.2,79.2 47.0,79.6 48.0,79.8 49.8,74.9 51.6,69.9 52.7,73.1 53.4,75.8 54.5,76.8 55.2,72.6 57.0,77.1 57.4,73.1 58.8,72.0 60.6,75.9 61.1,74.0 62.4,72.4 64.2,77.4 64.9,74.9 66.0,73.4 67.8,80.1 68.6,76.8 69.6,72.8 71.4,78.1 72.4,75.9 73.2,72.0 75.0,76.4 76.1,74.9 76.8,73.4 78.6,77.1 79.0,74.0 80.4,72.5 81.8,77.8 82.2,81.1 84.0,73.0 84.6,76.8 85.8,80.0 87.4,75.9 87.6,74.2 89.4,80.6 91.2,78.7 93.0,74.5 94.8,79.1 94.9,77.8 96.6,74.9 98.4,78.3 98.7,76.8 100.2,75.8 102.0,80.1 102.4,77.8 103.8,74.1 105.6,80.1 106.2,75.9 107.4,73.7 109.0,74.0 109.2,76.7 111.0,71.4 111.8,75.9 112.8,79.4 114.6,74.0 115.6,76.8 116.4,79.1 118.2,75.7 118.4,78.7 120.0,81.6 121.2,80.6 121.8,77.9 123.6,84.3 124.0,81.5 125.4,81.4 125.9,84.3 127.2,87.1 127.8,83.4 129.0,82.4 129.7,85.3" fill="none" stroke="#2424a8" stroke-width="1.5" stroke-linejoin="miter" stroke-miterlimit="3"/>
<text x="132.8" y="89.1" class="lb">4.050</text>
<path d="M125,51.0L135,45.4H167V55.9H135Z" fill="url(#gg)" filter="url(#bl)"/>
<path d="M125,112.2L135,106.2H167V118.2H135Z" fill="url(#gp)" filter="url(#bl)"/>
<text x="132.8" y="54.6" class="lb hi">4.087</text>
<text x="132.8" y="115.4" class="lb lo">4.022</text>
<line x1="130.7" y1="85.4" x2="133" y2="85.4" stroke="#888" stroke-width="1" stroke-dasharray="1 1.5"/>
<path d="M143.5,81.2L133,85.4L143.5,89.0" fill="none" stroke="#5a5a5a" stroke-width="0.9"/>
<line x1="143.5" y1="80.8" x2="143.5" y2="89.6" stroke="#111" stroke-width="0.9"/></svg>
<div class="bt">1万円= 2,466</div></div></body></html>
